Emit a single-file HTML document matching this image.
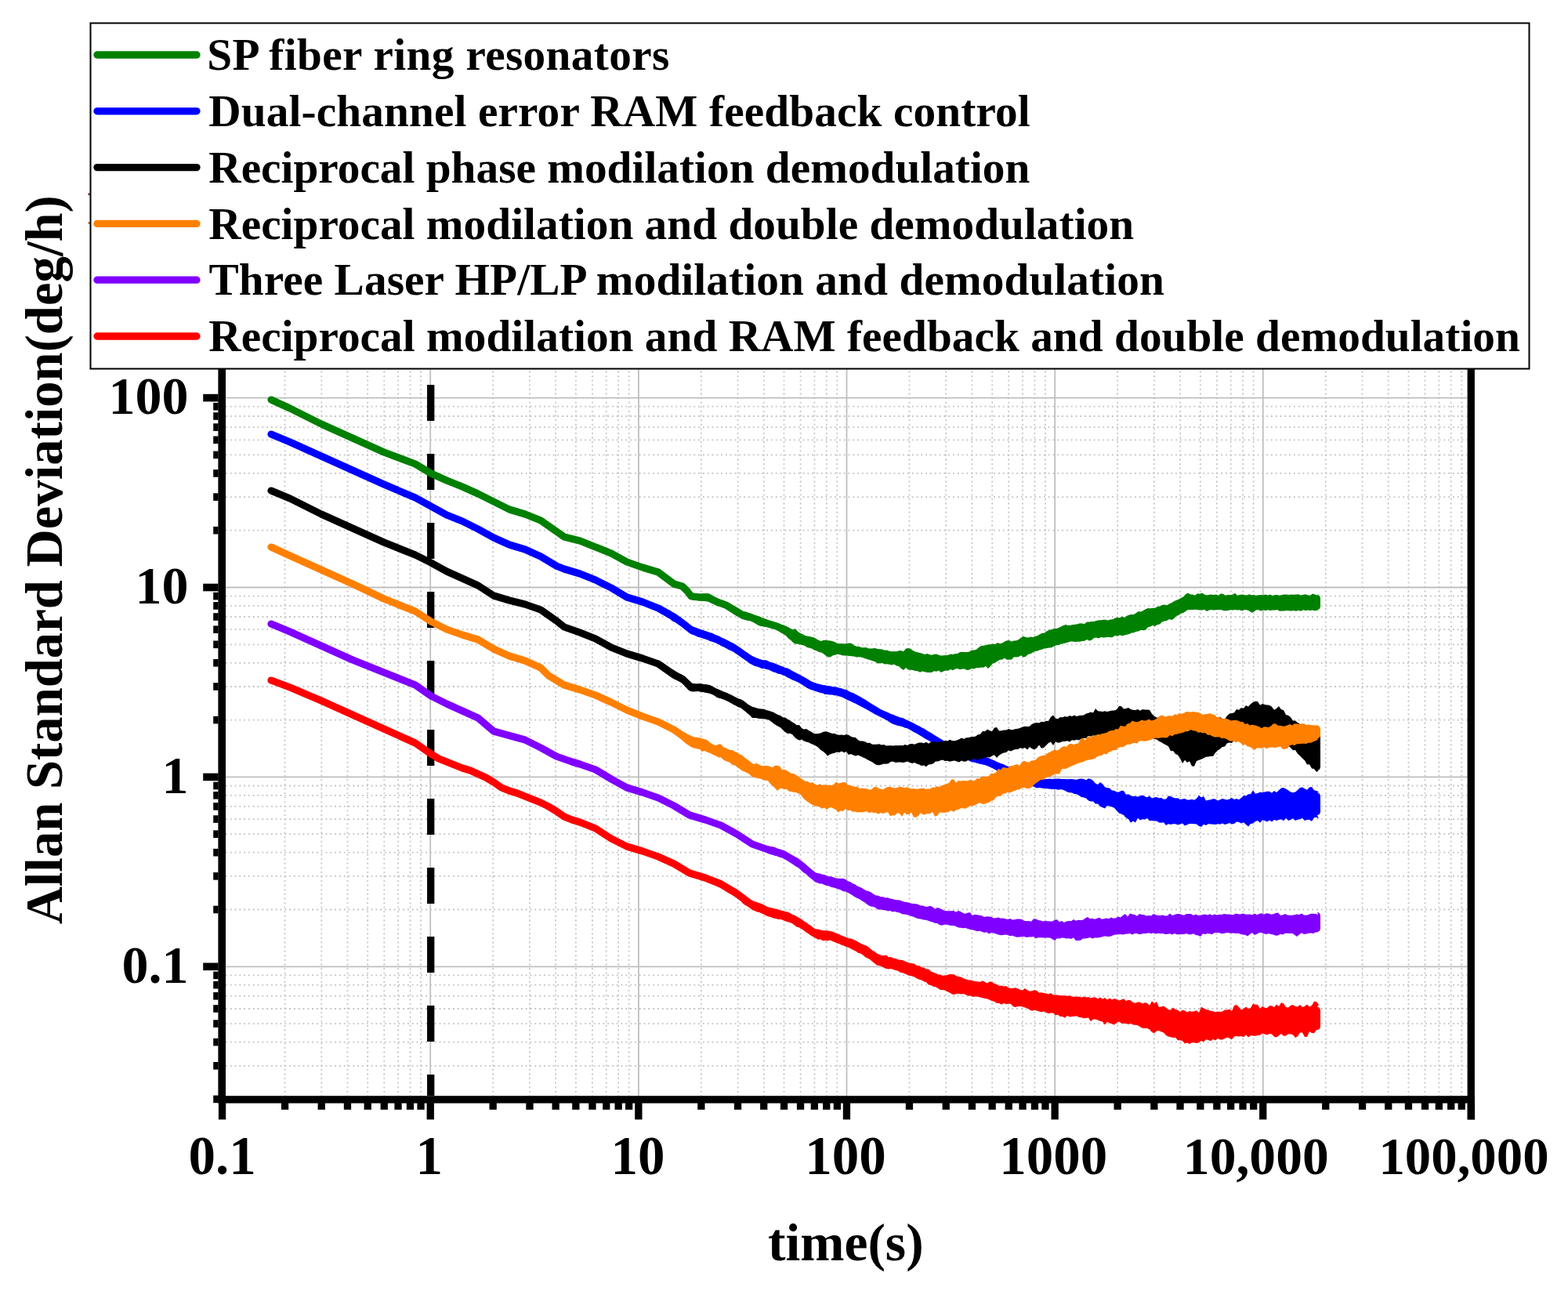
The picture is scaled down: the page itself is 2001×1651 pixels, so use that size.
<!DOCTYPE html><html><head><meta charset="utf-8"><style>html,body{margin:0;padding:0;background:#fff;}svg{display:block}</style></head><body>
<svg width="2001" height="1651" viewBox="0 0 2001 1651">
<rect x="0" y="0" width="2001" height="1651" fill="#fff"/>
<path d="M363.5 300.0V1398.2M410.3 300.0V1398.2M443.5 300.0V1398.2M469.2 300.0V1398.2M490.3 300.0V1398.2M508.1 300.0V1398.2M523.5 300.0V1398.2M537.0 300.0V1398.2M629.2 300.0V1398.2M675.9 300.0V1398.2M709.1 300.0V1398.2M734.9 300.0V1398.2M755.9 300.0V1398.2M773.7 300.0V1398.2M789.1 300.0V1398.2M802.7 300.0V1398.2M894.8 300.0V1398.2M941.6 300.0V1398.2M974.8 300.0V1398.2M1000.5 300.0V1398.2M1021.6 300.0V1398.2M1039.4 300.0V1398.2M1054.8 300.0V1398.2M1068.3 300.0V1398.2M1160.5 300.0V1398.2M1207.2 300.0V1398.2M1240.4 300.0V1398.2M1266.2 300.0V1398.2M1287.2 300.0V1398.2M1305.0 300.0V1398.2M1320.4 300.0V1398.2M1334.0 300.0V1398.2M1426.1 300.0V1398.2M1472.9 300.0V1398.2M1506.1 300.0V1398.2M1531.8 300.0V1398.2M1552.9 300.0V1398.2M1570.7 300.0V1398.2M1586.1 300.0V1398.2M1599.6 300.0V1398.2M1691.8 300.0V1398.2M1738.5 300.0V1398.2M1771.7 300.0V1398.2M1797.5 300.0V1398.2M1818.5 300.0V1398.2M1836.3 300.0V1398.2M1851.7 300.0V1398.2M1865.3 300.0V1398.2" stroke="#c0c0c0" stroke-width="1.8" stroke-dasharray="1.8 3.8" fill="none"/>
<path d="M288.0 1359.8H1872.6M288.0 1329.6H1872.6M288.0 1306.1H1872.6M288.0 1287.0H1872.6M288.0 1270.8H1872.6M288.0 1256.7H1872.6M288.0 1244.4H1872.6M288.0 1160.5H1872.6M288.0 1117.9H1872.6M288.0 1087.7H1872.6M288.0 1064.2H1872.6M288.0 1045.1H1872.6M288.0 1028.9H1872.6M288.0 1014.8H1872.6M288.0 1002.5H1872.6M288.0 918.6H1872.6M288.0 876.0H1872.6M288.0 845.8H1872.6M288.0 822.3H1872.6M288.0 803.2H1872.6M288.0 787.0H1872.6M288.0 772.9H1872.6M288.0 760.6H1872.6M288.0 676.7H1872.6M288.0 634.1H1872.6M288.0 603.9H1872.6M288.0 580.4H1872.6M288.0 561.3H1872.6M288.0 545.1H1872.6M288.0 531.0H1872.6M288.0 518.7H1872.6M288.0 434.8H1872.6M288.0 392.2H1872.6M288.0 362.0H1872.6M288.0 338.5H1872.6M288.0 319.4H1872.6M288.0 303.2H1872.6" stroke="#c0c0c0" stroke-width="1.8" stroke-dasharray="1.8 4" fill="none"/>
<path d="M549.2 300.0V1398.2M814.9 300.0V1398.2M1080.5 300.0V1398.2M1346.2 300.0V1398.2M1611.8 300.0V1398.2M288.0 1233.3H1872.6M288.0 991.4H1872.6M288.0 749.5H1872.6M288.0 507.6H1872.6" stroke="#bfbfbf" stroke-width="1.8" fill="none"/>
<path d="M549.7 491V1398" stroke="#000" stroke-width="9.3" stroke-dasharray="46 42" fill="none"/>
<path d="M346.0 510.0 L370.0 521.0 L410.0 541.0 L450.0 559.0 L490.0 577.0 L530.0 592.0 L550.0 604.0 L570.0 613.0 L590.0 621.0 L610.0 630.0 L630.0 640.0 L650.0 650.0 L670.0 656.0 L690.0 664.0 L700.0 671.0 L720.0 685.0 L740.0 690.0 L760.0 698.0 L780.0 706.0 L800.0 717.0 L820.0 724.0 L840.0 730.0 L860.0 745.0 L871.0 748.2 L877.0 754.3 L882.0 760.8 L893.0 762.0 L904.0 762.2 L915.0 768.0 L926.0 771.8 L937.0 778.5 L948.0 785.0 L959.0 787.9 L970.0 793.0 L981.0 796.0 L992.0 799.4 L1003.0 805.2 L1014.0 812.5 L1025.0 816.8 L1036.0 820.2 L1047.0 825.1 L1058.0 828.0 L1069.0 827.9 L1080.0 828.9 L1100.0 832.5 L1120.0 837.0 L1140.0 839.5 L1160.0 842.0 L1180.0 846.0 L1200.0 846.0 L1220.0 844.0 L1240.0 842.0 L1260.0 836.0 L1280.0 830.0 L1300.0 827.0 L1320.0 822.0 L1340.0 815.0 L1360.0 809.0 L1380.0 807.0 L1400.0 803.0 L1420.0 801.0 L1440.0 798.0 L1460.0 790.0 L1475.0 786.5 L1490.0 781.0 L1505.0 775.0 L1515.0 768.5 L1535.0 768.5 L1600.0 769.0 L1680.5 769.0" stroke="#008000" stroke-width="9.2" fill="none" stroke-linejoin="round" stroke-linecap="round"/>
<path d="M871.0 744.2 L874.0 746.6 L877.0 748.5 L880.0 753.6 L883.0 756.4 L886.0 757.0 L889.0 757.3 L892.0 757.7 L895.0 757.6 L898.0 757.3 L901.0 757.2 L904.0 757.3 L907.0 758.6 L910.0 760.6 L913.0 762.1 L916.0 763.5 L919.0 764.8 L922.0 765.7 L925.0 767.1 L928.0 768.5 L931.0 769.7 L934.0 771.4 L937.0 773.3 L940.0 774.7 L943.0 776.6 L946.0 778.7 L949.0 780.2 L952.0 780.5 L955.0 781.8 L958.0 782.5 L961.0 784.0 L964.0 785.1 L967.0 785.7 L970.0 786.7 L973.0 788.4 L976.0 789.3 L979.0 790.6 L982.0 792.2 L985.0 792.8 L988.0 793.8 L991.0 794.8 L994.0 795.4 L997.0 796.8 L1000.0 797.6 L1003.0 798.8 L1006.0 800.3 L1009.0 802.1 L1012.0 803.2 L1015.0 802.2 L1018.0 805.6 L1021.0 807.7 L1024.0 808.9 L1027.0 810.8 L1030.0 811.5 L1033.0 812.0 L1036.0 812.8 L1039.0 813.6 L1042.0 815.3 L1045.0 817.1 L1048.0 818.0 L1051.0 816.8 L1054.0 816.7 L1057.0 817.2 L1060.0 817.4 L1063.0 818.3 L1066.0 819.5 L1069.0 821.0 L1072.0 821.2 L1075.0 821.1 L1078.0 821.4 L1081.0 820.9 L1084.0 820.4 L1087.0 821.0 L1090.0 823.5 L1093.0 824.7 L1096.0 824.7 L1099.0 826.1 L1102.0 826.3 L1105.0 826.0 L1108.0 827.3 L1111.0 827.5 L1114.0 827.3 L1117.0 827.0 L1120.0 828.0 L1123.0 828.2 L1126.0 828.4 L1129.0 829.7 L1132.0 829.4 L1135.0 830.7 L1138.0 831.3 L1141.0 831.0 L1144.0 831.2 L1147.0 830.2 L1150.0 829.9 L1153.0 831.2 L1156.0 827.6 L1159.0 827.0 L1162.0 827.7 L1165.0 829.9 L1168.0 831.5 L1171.0 832.2 L1174.0 832.9 L1177.0 833.7 L1180.0 834.9 L1183.0 833.9 L1186.0 835.0 L1189.0 835.7 L1192.0 834.7 L1195.0 834.6 L1198.0 835.8 L1201.0 836.5 L1204.0 836.3 L1207.0 835.9 L1210.0 835.8 L1213.0 834.6 L1216.0 835.1 L1219.0 833.9 L1222.0 834.1 L1225.0 832.1 L1228.0 831.8 L1231.0 832.0 L1234.0 831.9 L1237.0 831.4 L1240.0 829.5 L1243.0 829.4 L1246.0 828.7 L1249.0 825.9 L1252.0 823.9 L1255.0 823.7 L1258.0 823.2 L1261.0 822.3 L1264.0 822.2 L1267.0 821.5 L1270.0 822.1 L1273.0 820.1 L1276.0 821.3 L1279.0 820.5 L1282.0 818.4 L1285.0 817.2 L1288.0 817.1 L1291.0 818.5 L1294.0 817.4 L1297.0 817.3 L1300.0 816.0 L1303.0 813.4 L1306.0 811.7 L1309.0 812.9 L1312.0 813.4 L1315.0 812.5 L1318.0 813.0 L1321.0 812.0 L1324.0 811.0 L1327.0 809.3 L1330.0 807.7 L1333.0 807.5 L1336.0 805.2 L1339.0 803.8 L1342.0 803.3 L1345.0 802.0 L1348.0 802.0 L1351.0 801.1 L1354.0 799.6 L1357.0 798.0 L1360.0 797.1 L1363.0 797.9 L1366.0 797.8 L1369.0 796.9 L1372.0 796.7 L1375.0 796.2 L1378.0 795.3 L1381.0 795.6 L1384.0 796.0 L1387.0 793.6 L1390.0 793.5 L1393.0 793.0 L1396.0 792.9 L1399.0 792.1 L1402.0 791.3 L1405.0 791.2 L1408.0 790.7 L1411.0 790.8 L1414.0 791.4 L1417.0 790.4 L1420.0 790.2 L1423.0 788.6 L1426.0 787.8 L1429.0 788.2 L1432.0 786.6 L1435.0 787.9 L1438.0 785.8 L1441.0 784.6 L1444.0 784.1 L1447.0 784.0 L1450.0 782.0 L1453.0 780.0 L1456.0 780.4 L1459.0 779.0 L1462.0 777.2 L1465.0 776.0 L1468.0 776.2 L1471.0 775.8 L1474.0 775.7 L1477.0 774.0 L1480.0 773.4 L1483.0 772.0 L1486.0 771.6 L1489.0 772.2 L1492.0 770.4 L1495.0 769.3 L1498.0 767.2 L1501.0 765.8 L1504.0 764.7 L1507.0 763.1 L1510.0 761.4 L1513.0 758.3 L1516.0 756.6 L1519.0 758.6 L1522.0 758.5 L1525.0 759.8 L1528.0 757.2 L1531.0 757.8 L1534.0 756.4 L1537.0 758.5 L1540.0 759.5 L1543.0 758.7 L1546.0 758.6 L1549.0 759.0 L1552.0 758.4 L1555.0 759.8 L1558.0 757.2 L1561.0 757.9 L1564.0 759.7 L1567.0 758.9 L1570.0 759.0 L1573.0 758.7 L1576.0 756.8 L1579.0 759.8 L1582.0 758.9 L1585.0 758.5 L1588.0 758.9 L1591.0 759.4 L1594.0 758.3 L1597.0 759.2 L1600.0 759.1 L1603.0 759.8 L1606.0 759.3 L1609.0 759.0 L1612.0 759.3 L1615.0 758.6 L1618.0 759.6 L1621.0 758.5 L1624.0 759.9 L1627.0 759.1 L1630.0 759.0 L1633.0 759.8 L1636.0 758.9 L1639.0 758.6 L1642.0 758.5 L1645.0 759.1 L1648.0 758.6 L1651.0 758.8 L1654.0 758.4 L1657.0 758.2 L1660.0 759.6 L1663.0 758.7 L1666.0 758.3 L1669.0 759.3 L1672.0 759.7 L1675.0 757.6 L1678.0 758.6 L1681.0 759.4 L1684.0 758.3 L1681.0 758.7 L1683.8 759.9 L1685.0 762.7 L1685.0 774.3 L1683.8 777.1 L1681.0 778.3 L1684.0 779.7 L1681.0 778.8 L1678.0 779.2 L1675.0 778.5 L1672.0 778.9 L1669.0 778.5 L1666.0 779.1 L1663.0 778.3 L1660.0 779.7 L1657.0 778.7 L1654.0 779.7 L1651.0 778.9 L1648.0 779.4 L1645.0 779.2 L1642.0 779.1 L1639.0 779.4 L1636.0 779.5 L1633.0 779.8 L1630.0 778.1 L1627.0 778.5 L1624.0 778.6 L1621.0 779.0 L1618.0 778.3 L1615.0 779.0 L1612.0 778.3 L1609.0 779.5 L1606.0 778.3 L1603.0 778.3 L1600.0 780.7 L1597.0 781.8 L1594.0 779.2 L1591.0 778.2 L1588.0 778.0 L1585.0 779.4 L1582.0 778.3 L1579.0 778.5 L1576.0 778.0 L1573.0 778.4 L1570.0 778.3 L1567.0 779.0 L1564.0 779.2 L1561.0 779.1 L1558.0 778.1 L1555.0 777.9 L1552.0 778.2 L1549.0 778.4 L1546.0 778.0 L1543.0 778.6 L1540.0 780.0 L1537.0 777.7 L1534.0 778.6 L1531.0 778.5 L1528.0 778.0 L1525.0 777.8 L1522.0 778.0 L1519.0 777.9 L1516.0 778.0 L1513.0 779.9 L1510.0 782.1 L1507.0 782.8 L1504.0 785.0 L1501.0 785.9 L1498.0 789.6 L1495.0 791.1 L1492.0 789.9 L1489.0 792.0 L1486.0 792.4 L1483.0 793.4 L1480.0 796.5 L1477.0 797.0 L1474.0 798.9 L1471.0 798.0 L1468.0 799.5 L1465.0 800.2 L1462.0 803.8 L1459.0 804.2 L1456.0 803.8 L1453.0 805.5 L1450.0 805.8 L1447.0 807.2 L1444.0 807.5 L1441.0 809.1 L1438.0 809.8 L1435.0 810.4 L1432.0 811.2 L1429.0 810.2 L1426.0 811.7 L1423.0 810.8 L1420.0 813.0 L1417.0 813.2 L1414.0 812.7 L1411.0 813.3 L1408.0 813.4 L1405.0 813.0 L1402.0 814.4 L1399.0 813.6 L1396.0 814.0 L1393.0 816.7 L1390.0 817.4 L1387.0 815.9 L1384.0 817.7 L1381.0 818.0 L1378.0 818.8 L1375.0 818.7 L1372.0 819.0 L1369.0 818.4 L1366.0 818.6 L1363.0 819.4 L1360.0 820.4 L1357.0 821.1 L1354.0 821.8 L1351.0 823.1 L1348.0 823.3 L1345.0 824.6 L1342.0 826.2 L1339.0 826.6 L1336.0 827.1 L1333.0 827.2 L1330.0 828.5 L1327.0 829.3 L1324.0 830.4 L1321.0 831.1 L1318.0 832.6 L1315.0 834.2 L1312.0 834.8 L1309.0 837.8 L1306.0 838.4 L1303.0 836.2 L1300.0 837.9 L1297.0 838.4 L1294.0 838.3 L1291.0 841.5 L1288.0 841.8 L1285.0 841.8 L1282.0 839.4 L1279.0 841.4 L1276.0 841.7 L1273.0 843.6 L1270.0 845.5 L1267.0 846.5 L1264.0 850.1 L1261.0 853.1 L1258.0 850.1 L1255.0 851.7 L1252.0 851.5 L1249.0 852.2 L1246.0 851.9 L1243.0 853.5 L1240.0 853.1 L1237.0 854.6 L1234.0 855.0 L1231.0 853.5 L1228.0 853.6 L1225.0 854.2 L1222.0 853.1 L1219.0 853.4 L1216.0 855.2 L1213.0 854.1 L1210.0 855.8 L1207.0 855.6 L1204.0 856.4 L1201.0 858.1 L1198.0 855.6 L1195.0 856.8 L1192.0 856.2 L1189.0 858.0 L1186.0 857.9 L1183.0 858.1 L1180.0 857.2 L1177.0 856.4 L1174.0 857.7 L1171.0 856.2 L1168.0 856.0 L1165.0 855.1 L1162.0 854.7 L1159.0 854.4 L1156.0 852.0 L1153.0 855.0 L1150.0 853.0 L1147.0 850.0 L1144.0 849.5 L1141.0 847.6 L1138.0 848.5 L1135.0 847.7 L1132.0 847.3 L1129.0 847.4 L1126.0 846.1 L1123.0 846.3 L1120.0 846.6 L1117.0 844.2 L1114.0 843.6 L1111.0 842.3 L1108.0 841.5 L1105.0 840.4 L1102.0 839.5 L1099.0 838.5 L1096.0 838.2 L1093.0 838.6 L1090.0 837.6 L1087.0 837.3 L1084.0 837.0 L1081.0 836.6 L1078.0 836.4 L1075.0 836.2 L1072.0 835.3 L1069.0 834.8 L1066.0 835.6 L1063.0 836.2 L1060.0 838.2 L1057.0 838.5 L1054.0 836.7 L1051.0 834.2 L1048.0 832.4 L1045.0 832.0 L1042.0 830.2 L1039.0 829.5 L1036.0 827.5 L1033.0 826.8 L1030.0 826.0 L1027.0 824.1 L1024.0 823.0 L1021.0 822.5 L1018.0 821.6 L1015.0 821.8 L1012.0 819.7 L1009.0 816.8 L1006.0 814.5 L1003.0 811.1 L1000.0 809.0 L997.0 807.4 L994.0 805.2 L991.0 803.5 L988.0 802.5 L985.0 801.3 L982.0 800.7 L979.0 800.0 L976.0 799.6 L973.0 799.2 L970.0 798.8 L967.0 797.5 L964.0 795.5 L961.0 793.6 L958.0 792.3 L955.0 792.1 L952.0 791.3 L949.0 790.6 L946.0 789.3 L943.0 787.3 L940.0 786.0 L937.0 784.1 L934.0 781.7 L931.0 779.5 L928.0 777.5 L925.0 775.6 L922.0 775.1 L919.0 773.8 L916.0 773.2 L913.0 772.0 L910.0 770.5 L907.0 769.3 L904.0 767.8 L901.0 767.3 L898.0 767.1 L895.0 766.8 L892.0 766.5 L889.0 766.2 L886.0 765.9 L883.0 765.4 L880.0 762.6 L877.0 759.5 L874.0 755.9 L871.0 752.2Z" fill="#008000"/>
<path d="M346.0 554.0 L370.0 564.0 L410.0 582.0 L450.0 600.0 L490.0 618.0 L530.0 635.0 L550.0 646.0 L570.0 657.0 L590.0 665.0 L610.0 675.0 L630.0 686.0 L650.0 695.0 L670.0 701.0 L690.0 710.0 L710.0 722.0 L720.0 726.0 L740.0 732.0 L760.0 740.0 L780.0 750.0 L800.0 762.0 L820.0 768.0 L840.0 776.0 L860.0 787.3 L871.0 795.0 L882.0 803.7 L893.0 808.0 L904.0 811.4 L915.0 815.8 L926.0 821.3 L937.0 826.8 L948.0 834.5 L959.0 842.2 L970.0 846.6 L981.0 849.3 L992.0 853.2 L1003.0 857.6 L1014.0 863.0 L1025.0 868.6 L1036.0 875.2 L1047.0 878.5 L1058.0 880.7 L1069.0 882.3 L1080.0 886.0 L1100.0 896.0 L1120.0 908.0 L1140.0 918.0 L1160.0 925.0 L1180.0 936.0 L1200.0 948.0 L1220.0 958.0 L1240.0 967.0 L1260.0 972.0 L1280.0 981.0 L1300.0 989.0 L1315.0 996.0 L1330.0 1000.0 L1360.0 1001.0 L1380.0 1005.0 L1400.0 1013.0 L1420.0 1019.0 L1440.0 1030.0 L1460.0 1030.0 L1490.0 1036.0 L1520.0 1035.5 L1550.0 1036.5 L1580.0 1034.5 L1600.0 1030.5 L1630.0 1028.0 L1660.0 1027.0 L1675.0 1025.5 L1680.5 1026.0" stroke="#0000ff" stroke-width="9.2" fill="none" stroke-linejoin="round" stroke-linecap="round"/>
<path d="M840.0 771.8 L843.0 772.2 L846.0 774.5 L849.0 775.5 L852.0 777.4 L855.0 778.7 L858.0 780.9 L861.0 782.6 L864.0 784.6 L867.0 786.8 L870.0 789.0 L873.0 791.2 L876.0 793.6 L879.0 796.1 L882.0 798.4 L885.0 799.8 L888.0 800.7 L891.0 802.1 L894.0 803.0 L897.0 804.0 L900.0 805.0 L903.0 806.0 L906.0 807.2 L909.0 807.8 L912.0 809.5 L915.0 810.8 L918.0 811.7 L921.0 813.8 L924.0 814.7 L927.0 816.3 L930.0 817.8 L933.0 819.6 L936.0 820.7 L939.0 823.2 L942.0 825.0 L945.0 826.8 L948.0 829.3 L951.0 831.6 L954.0 833.1 L957.0 835.3 L960.0 837.1 L963.0 838.3 L966.0 839.8 L969.0 840.7 L972.0 841.7 L975.0 842.3 L978.0 842.2 L981.0 844.0 L984.0 844.9 L987.0 845.8 L990.0 847.0 L993.0 848.2 L996.0 849.6 L999.0 850.4 L1002.0 852.1 L1005.0 852.5 L1008.0 854.1 L1011.0 856.1 L1014.0 857.4 L1017.0 859.2 L1020.0 860.5 L1023.0 862.4 L1026.0 863.9 L1029.0 865.6 L1032.0 867.4 L1035.0 869.4 L1038.0 870.6 L1041.0 871.4 L1044.0 872.5 L1047.0 873.2 L1050.0 874.1 L1053.0 874.3 L1056.0 874.9 L1059.0 875.3 L1062.0 875.9 L1065.0 876.2 L1068.0 876.8 L1071.0 877.7 L1074.0 878.3 L1077.0 879.4 L1080.0 880.0 L1083.0 881.8 L1086.0 883.3 L1089.0 884.3 L1092.0 885.7 L1095.0 887.6 L1098.0 888.9 L1101.0 891.0 L1104.0 892.4 L1107.0 894.7 L1110.0 896.9 L1113.0 898.8 L1116.0 901.2 L1119.0 903.4 L1122.0 905.1 L1125.0 906.1 L1128.0 907.3 L1131.0 908.1 L1134.0 909.4 L1137.0 910.9 L1140.0 911.8 L1143.0 913.3 L1146.0 914.2 L1149.0 915.6 L1152.0 916.1 L1155.0 917.4 L1158.0 919.0 L1161.0 920.5 L1164.0 922.1 L1167.0 923.3 L1170.0 925.2 L1173.0 926.3 L1176.0 928.2 L1179.0 929.6 L1182.0 931.5 L1185.0 933.4 L1188.0 935.1 L1191.0 937.1 L1194.0 939.0 L1197.0 940.8 L1200.0 942.7 L1203.0 944.5 L1206.0 945.8 L1209.0 947.4 L1212.0 948.8 L1215.0 950.6 L1218.0 951.8 L1221.0 953.3 L1224.0 954.9 L1227.0 955.9 L1230.0 957.5 L1233.0 958.9 L1236.0 960.0 L1239.0 961.5 L1242.0 962.5 L1245.0 963.4 L1248.0 963.7 L1251.0 964.9 L1254.0 965.2 L1257.0 965.3 L1260.0 966.5 L1263.0 967.7 L1266.0 969.2 L1269.0 970.3 L1272.0 972.1 L1275.0 973.3 L1278.0 974.3 L1281.0 975.3 L1284.0 976.9 L1287.0 978.0 L1290.0 979.2 L1293.0 979.0 L1296.0 980.6 L1299.0 981.8 L1302.0 984.2 L1305.0 984.8 L1308.0 987.1 L1311.0 988.4 L1314.0 989.4 L1317.0 990.2 L1320.0 991.5 L1323.0 991.9 L1326.0 992.8 L1329.0 994.1 L1332.0 994.2 L1335.0 994.0 L1338.0 993.7 L1341.0 993.7 L1344.0 994.1 L1347.0 993.8 L1350.0 993.5 L1353.0 993.8 L1356.0 993.9 L1359.0 994.1 L1362.0 994.3 L1365.0 993.9 L1368.0 994.0 L1371.0 994.6 L1374.0 994.7 L1377.0 993.8 L1380.0 993.5 L1383.0 994.1 L1386.0 995.3 L1389.0 993.3 L1392.0 994.0 L1395.0 995.9 L1398.0 999.4 L1401.0 1001.0 L1404.0 998.1 L1407.0 1000.3 L1410.0 1004.3 L1413.0 1005.3 L1416.0 1005.6 L1419.0 1008.5 L1422.0 1008.8 L1425.0 1010.5 L1428.0 1010.4 L1431.0 1008.7 L1434.0 1009.1 L1437.0 1013.7 L1440.0 1013.2 L1443.0 1015.3 L1446.0 1015.9 L1449.0 1015.8 L1452.0 1016.4 L1455.0 1015.6 L1458.0 1014.6 L1461.0 1016.2 L1464.0 1017.3 L1467.0 1015.6 L1470.0 1018.6 L1473.0 1017.6 L1476.0 1017.1 L1479.0 1018.3 L1482.0 1018.0 L1485.0 1019.8 L1488.0 1019.5 L1491.0 1015.6 L1494.0 1016.1 L1497.0 1017.5 L1500.0 1018.5 L1503.0 1018.3 L1506.0 1020.0 L1509.0 1019.4 L1512.0 1019.1 L1515.0 1020.5 L1518.0 1020.4 L1521.0 1019.8 L1524.0 1020.7 L1527.0 1018.7 L1530.0 1014.8 L1533.0 1017.4 L1536.0 1015.9 L1539.0 1021.6 L1542.0 1020.8 L1545.0 1020.2 L1548.0 1019.3 L1551.0 1019.4 L1554.0 1021.5 L1557.0 1020.2 L1560.0 1019.0 L1563.0 1019.7 L1566.0 1020.4 L1569.0 1019.4 L1572.0 1018.0 L1575.0 1019.9 L1578.0 1019.1 L1581.0 1020.2 L1584.0 1018.1 L1587.0 1014.9 L1590.0 1015.4 L1593.0 1013.3 L1596.0 1013.2 L1599.0 1008.3 L1602.0 1012.7 L1605.0 1011.9 L1608.0 1010.7 L1611.0 1011.1 L1614.0 1010.5 L1617.0 1009.7 L1620.0 1009.8 L1623.0 1011.8 L1626.0 1008.9 L1629.0 1011.0 L1632.0 1008.3 L1635.0 1005.4 L1638.0 1004.9 L1641.0 1006.4 L1644.0 1008.2 L1647.0 1010.5 L1650.0 1011.2 L1653.0 1010.4 L1656.0 1008.1 L1659.0 1004.9 L1662.0 1004.4 L1665.0 1006.2 L1668.0 1007.8 L1671.0 1004.5 L1674.0 1004.0 L1677.0 1008.2 L1680.0 1009.1 L1683.0 1010.3 L1681.0 1011.3 L1683.8 1012.5 L1685.0 1015.3 L1685.0 1036.2 L1683.8 1039.0 L1681.0 1040.2 L1683.0 1044.8 L1680.0 1042.8 L1677.0 1043.3 L1674.0 1048.0 L1671.0 1045.8 L1668.0 1046.1 L1665.0 1047.1 L1662.0 1043.7 L1659.0 1045.3 L1656.0 1045.7 L1653.0 1047.1 L1650.0 1044.3 L1647.0 1046.1 L1644.0 1047.0 L1641.0 1043.8 L1638.0 1047.2 L1635.0 1045.3 L1632.0 1046.1 L1629.0 1047.0 L1626.0 1046.1 L1623.0 1048.4 L1620.0 1046.5 L1617.0 1048.5 L1614.0 1046.9 L1611.0 1046.2 L1608.0 1049.8 L1605.0 1046.9 L1602.0 1048.0 L1599.0 1050.6 L1596.0 1050.9 L1593.0 1054.4 L1590.0 1052.0 L1587.0 1049.2 L1584.0 1050.6 L1581.0 1049.1 L1578.0 1048.6 L1575.0 1051.0 L1572.0 1051.4 L1569.0 1050.0 L1566.0 1051.3 L1563.0 1052.1 L1560.0 1050.4 L1557.0 1051.8 L1554.0 1051.2 L1551.0 1051.9 L1548.0 1051.7 L1545.0 1051.4 L1542.0 1051.2 L1539.0 1052.9 L1536.0 1051.7 L1533.0 1055.0 L1530.0 1054.0 L1527.0 1051.4 L1524.0 1051.3 L1521.0 1050.9 L1518.0 1050.9 L1515.0 1052.2 L1512.0 1053.5 L1509.0 1050.6 L1506.0 1051.6 L1503.0 1052.6 L1500.0 1051.3 L1497.0 1051.2 L1494.0 1052.1 L1491.0 1051.3 L1488.0 1052.9 L1485.0 1049.2 L1482.0 1049.7 L1479.0 1049.5 L1476.0 1047.5 L1473.0 1047.5 L1470.0 1047.0 L1467.0 1047.2 L1464.0 1044.1 L1461.0 1045.6 L1458.0 1045.2 L1455.0 1046.5 L1452.0 1043.7 L1449.0 1049.6 L1446.0 1047.4 L1443.0 1049.7 L1440.0 1045.0 L1437.0 1043.6 L1434.0 1039.9 L1431.0 1038.4 L1428.0 1037.6 L1425.0 1034.3 L1422.0 1030.8 L1419.0 1029.5 L1416.0 1028.8 L1413.0 1027.7 L1410.0 1031.5 L1407.0 1030.3 L1404.0 1029.0 L1401.0 1025.5 L1398.0 1025.7 L1395.0 1022.5 L1392.0 1022.5 L1389.0 1021.5 L1386.0 1018.4 L1383.0 1017.4 L1380.0 1016.9 L1377.0 1015.1 L1374.0 1013.3 L1371.0 1013.0 L1368.0 1011.6 L1365.0 1011.2 L1362.0 1010.4 L1359.0 1008.8 L1356.0 1007.6 L1353.0 1007.3 L1350.0 1007.7 L1347.0 1006.8 L1344.0 1007.1 L1341.0 1006.8 L1338.0 1006.5 L1335.0 1006.1 L1332.0 1006.1 L1329.0 1005.5 L1326.0 1005.0 L1323.0 1005.4 L1320.0 1003.9 L1317.0 1002.9 L1314.0 1001.8 L1311.0 1000.2 L1308.0 999.0 L1305.0 997.0 L1302.0 996.9 L1299.0 994.6 L1296.0 994.5 L1293.0 992.1 L1290.0 991.1 L1287.0 990.2 L1284.0 988.7 L1281.0 987.3 L1278.0 985.8 L1275.0 984.2 L1272.0 983.3 L1269.0 981.3 L1266.0 979.7 L1263.0 978.3 L1260.0 977.0 L1257.0 976.1 L1254.0 975.3 L1251.0 974.7 L1248.0 974.0 L1245.0 973.1 L1242.0 972.3 L1239.0 971.6 L1236.0 970.1 L1233.0 968.8 L1230.0 967.6 L1227.0 966.3 L1224.0 964.9 L1221.0 963.3 L1218.0 962.4 L1215.0 961.2 L1212.0 959.1 L1209.0 957.3 L1206.0 956.0 L1203.0 954.5 L1200.0 952.9 L1197.0 951.6 L1194.0 950.0 L1191.0 947.8 L1188.0 946.4 L1185.0 944.8 L1182.0 943.3 L1179.0 941.6 L1176.0 939.4 L1173.0 937.8 L1170.0 935.8 L1167.0 934.5 L1164.0 932.7 L1161.0 930.8 L1158.0 929.3 L1155.0 928.7 L1152.0 927.3 L1149.0 926.4 L1146.0 925.9 L1143.0 924.9 L1140.0 923.9 L1137.0 922.4 L1134.0 920.5 L1131.0 918.3 L1128.0 916.6 L1125.0 914.7 L1122.0 913.1 L1119.0 911.4 L1116.0 910.2 L1113.0 908.6 L1110.0 907.2 L1107.0 905.6 L1104.0 904.1 L1101.0 902.6 L1098.0 901.0 L1095.0 899.4 L1092.0 897.7 L1089.0 896.5 L1086.0 894.9 L1083.0 893.7 L1080.0 892.2 L1077.0 890.7 L1074.0 889.3 L1071.0 888.6 L1068.0 887.6 L1065.0 887.3 L1062.0 886.4 L1059.0 886.5 L1056.0 886.1 L1053.0 885.9 L1050.0 884.5 L1047.0 884.0 L1044.0 883.0 L1041.0 882.1 L1038.0 881.0 L1035.0 880.1 L1032.0 878.8 L1029.0 877.3 L1026.0 874.9 L1023.0 873.2 L1020.0 871.1 L1017.0 869.8 L1014.0 868.5 L1011.0 867.5 L1008.0 865.8 L1005.0 864.4 L1002.0 862.6 L999.0 861.4 L996.0 860.0 L993.0 859.7 L990.0 858.3 L987.0 857.4 L984.0 855.9 L981.0 854.5 L978.0 854.0 L975.0 852.9 L972.0 852.9 L969.0 851.4 L966.0 850.4 L963.0 849.8 L960.0 848.2 L957.0 846.6 L954.0 844.0 L951.0 841.7 L948.0 839.7 L945.0 837.7 L942.0 835.4 L939.0 833.7 L936.0 831.6 L933.0 830.3 L930.0 829.0 L927.0 827.2 L924.0 825.4 L921.0 824.5 L918.0 822.5 L915.0 820.8 L912.0 819.7 L909.0 818.8 L906.0 818.0 L903.0 816.6 L900.0 815.5 L897.0 814.5 L894.0 813.5 L891.0 812.8 L888.0 811.5 L885.0 810.1 L882.0 809.2 L879.0 806.5 L876.0 804.6 L873.0 801.9 L870.0 799.5 L867.0 797.5 L864.0 795.2 L861.0 793.6 L858.0 792.4 L855.0 789.4 L852.0 788.0 L849.0 785.9 L846.0 784.0 L843.0 782.5 L840.0 780.8Z" fill="#0000ff"/>
<path d="M346.0 626.0 L370.0 636.0 L410.0 656.0 L450.0 674.0 L490.0 692.0 L530.0 708.0 L550.0 718.0 L570.0 729.0 L590.0 738.0 L610.0 747.0 L630.0 760.0 L650.0 766.0 L670.0 771.0 L690.0 778.0 L710.0 792.0 L720.0 800.0 L740.0 807.0 L760.0 815.0 L780.0 826.0 L800.0 834.0 L820.0 840.0 L840.0 847.0 L860.0 860.9 L871.0 866.4 L877.0 872.0 L882.0 877.4 L893.0 877.4 L904.0 878.5 L915.0 884.0 L926.0 888.4 L937.0 893.8 L948.0 899.3 L960.0 909.0 L980.0 912.0 L1000.0 923.0 L1020.0 935.0 L1040.0 943.5 L1055.0 948.5 L1070.0 948.5 L1080.0 948.5 L1100.0 956.0 L1120.0 963.0 L1140.0 962.0 L1160.0 961.0 L1180.0 963.0 L1200.0 958.0 L1220.0 958.0 L1240.0 955.0 L1260.0 949.0 L1280.0 946.0 L1300.0 943.0 L1320.0 938.0 L1340.0 933.0 L1360.0 930.0 L1380.0 927.0 L1400.0 923.0 L1420.0 920.0 L1440.0 917.0 L1460.0 922.0 L1475.0 928.5 L1490.0 936.5 L1505.0 947.0 L1515.0 952.5 L1530.0 951.5 L1545.0 944.0 L1560.0 935.0 L1575.0 927.0 L1585.0 924.0 L1600.0 918.0 L1615.0 920.5 L1630.0 926.0 L1645.0 933.0 L1655.0 941.0 L1670.0 953.0 L1680.0 959.0 L1680.5 961.0" stroke="#000000" stroke-width="9.2" fill="none" stroke-linejoin="round" stroke-linecap="round"/>
<path d="M840.0 842.3 L843.0 844.6 L846.0 845.7 L849.0 848.1 L852.0 850.3 L855.0 852.7 L858.0 854.1 L861.0 855.8 L864.0 857.4 L867.0 859.4 L870.0 860.6 L873.0 863.4 L876.0 866.1 L879.0 869.1 L882.0 871.8 L885.0 872.0 L888.0 872.5 L891.0 872.3 L894.0 872.3 L897.0 872.7 L900.0 873.3 L903.0 873.4 L906.0 874.3 L909.0 875.4 L912.0 877.4 L915.0 878.9 L918.0 880.1 L921.0 881.5 L924.0 882.9 L927.0 883.7 L930.0 885.4 L933.0 886.5 L936.0 888.2 L939.0 889.9 L942.0 891.4 L945.0 892.0 L948.0 893.5 L951.0 896.1 L954.0 898.4 L957.0 899.9 L960.0 901.7 L963.0 902.4 L966.0 903.6 L969.0 904.2 L972.0 904.4 L975.0 904.7 L978.0 905.9 L981.0 906.7 L984.0 907.7 L987.0 908.7 L990.0 910.4 L993.0 912.1 L996.0 912.9 L999.0 915.2 L1002.0 915.6 L1005.0 917.6 L1008.0 919.2 L1011.0 921.3 L1014.0 922.9 L1017.0 925.3 L1020.0 925.1 L1023.0 928.9 L1026.0 930.4 L1029.0 930.1 L1032.0 931.9 L1035.0 933.6 L1038.0 935.6 L1041.0 936.3 L1044.0 935.9 L1047.0 935.4 L1050.0 933.9 L1053.0 933.2 L1056.0 933.7 L1059.0 934.7 L1062.0 935.9 L1065.0 935.7 L1068.0 937.2 L1071.0 937.7 L1074.0 937.5 L1077.0 938.1 L1080.0 937.1 L1083.0 937.8 L1086.0 939.8 L1089.0 940.7 L1092.0 940.9 L1095.0 944.3 L1098.0 945.5 L1101.0 945.4 L1104.0 946.3 L1107.0 947.9 L1110.0 947.7 L1113.0 949.7 L1116.0 949.7 L1119.0 949.8 L1122.0 949.2 L1125.0 950.4 L1128.0 950.1 L1131.0 951.5 L1134.0 951.2 L1137.0 951.2 L1140.0 951.4 L1143.0 951.0 L1146.0 951.3 L1149.0 951.1 L1152.0 951.3 L1155.0 950.0 L1158.0 950.9 L1161.0 949.2 L1164.0 949.1 L1167.0 949.8 L1170.0 948.5 L1173.0 947.4 L1176.0 947.6 L1179.0 948.2 L1182.0 946.7 L1185.0 948.7 L1188.0 946.6 L1191.0 946.3 L1194.0 946.7 L1197.0 946.8 L1200.0 946.3 L1203.0 946.1 L1206.0 945.0 L1209.0 945.5 L1212.0 943.7 L1215.0 945.1 L1218.0 945.2 L1221.0 944.5 L1224.0 943.3 L1227.0 941.5 L1230.0 942.8 L1233.0 941.2 L1236.0 941.1 L1239.0 940.3 L1242.0 940.1 L1245.0 939.4 L1248.0 937.2 L1251.0 936.8 L1254.0 932.7 L1257.0 933.3 L1260.0 930.4 L1263.0 932.2 L1266.0 933.0 L1269.0 928.5 L1272.0 928.1 L1275.0 932.6 L1278.0 932.3 L1281.0 931.5 L1284.0 931.4 L1287.0 930.1 L1290.0 931.0 L1293.0 931.1 L1296.0 930.1 L1299.0 929.8 L1302.0 928.7 L1305.0 927.6 L1308.0 926.7 L1311.0 927.0 L1314.0 926.7 L1317.0 923.7 L1320.0 922.7 L1323.0 922.0 L1326.0 922.5 L1329.0 920.7 L1332.0 921.2 L1335.0 919.7 L1338.0 920.1 L1341.0 914.8 L1344.0 912.4 L1347.0 916.5 L1350.0 917.2 L1353.0 914.9 L1356.0 915.2 L1359.0 913.9 L1362.0 914.7 L1365.0 913.1 L1368.0 914.1 L1371.0 912.4 L1374.0 913.9 L1377.0 912.9 L1380.0 912.8 L1383.0 912.4 L1386.0 910.6 L1389.0 909.8 L1392.0 908.4 L1395.0 909.4 L1398.0 904.0 L1401.0 907.3 L1404.0 907.6 L1407.0 908.1 L1410.0 907.3 L1413.0 908.0 L1416.0 907.3 L1419.0 906.6 L1422.0 906.6 L1425.0 905.2 L1428.0 901.1 L1431.0 900.9 L1434.0 904.4 L1437.0 903.9 L1440.0 903.0 L1443.0 904.9 L1446.0 905.8 L1449.0 906.0 L1452.0 904.9 L1455.0 906.8 L1458.0 905.1 L1461.0 905.6 L1464.0 905.4 L1467.0 905.7 L1470.0 910.7 L1473.0 913.7 L1476.0 915.5 L1479.0 915.5 L1482.0 917.9 L1485.0 919.0 L1488.0 917.6 L1491.0 919.4 L1494.0 922.0 L1497.0 922.0 L1500.0 922.5 L1503.0 922.5 L1506.0 928.4 L1509.0 930.1 L1512.0 932.1 L1515.0 933.3 L1518.0 931.1 L1521.0 927.2 L1524.0 929.2 L1527.0 927.9 L1530.0 930.7 L1533.0 931.0 L1536.0 930.8 L1539.0 927.7 L1542.0 928.4 L1545.0 926.4 L1548.0 925.4 L1551.0 922.6 L1554.0 918.7 L1557.0 914.6 L1560.0 917.6 L1563.0 917.6 L1566.0 913.2 L1569.0 910.4 L1572.0 910.1 L1575.0 909.3 L1578.0 905.1 L1581.0 905.8 L1584.0 902.9 L1587.0 903.7 L1590.0 899.9 L1593.0 901.4 L1596.0 898.3 L1599.0 896.0 L1602.0 894.7 L1605.0 895.0 L1608.0 899.8 L1611.0 898.1 L1614.0 898.9 L1617.0 899.5 L1620.0 899.8 L1623.0 901.8 L1626.0 905.7 L1629.0 904.0 L1632.0 900.9 L1635.0 905.3 L1638.0 905.9 L1641.0 912.0 L1644.0 912.8 L1647.0 915.0 L1650.0 919.4 L1653.0 919.5 L1656.0 921.9 L1659.0 923.9 L1662.0 927.9 L1665.0 925.4 L1668.0 926.8 L1671.0 929.8 L1674.0 931.7 L1677.0 932.5 L1680.0 935.8 L1683.0 935.4 L1681.0 935.9 L1683.8 937.1 L1685.0 939.9 L1685.0 979.1 L1683.8 981.9 L1681.0 983.1 L1683.0 983.0 L1680.0 984.9 L1677.0 980.9 L1674.0 980.6 L1671.0 975.3 L1668.0 975.6 L1665.0 970.3 L1662.0 967.6 L1659.0 964.2 L1656.0 961.7 L1653.0 956.9 L1650.0 957.3 L1647.0 954.0 L1644.0 951.6 L1641.0 950.2 L1638.0 950.3 L1635.0 950.0 L1632.0 944.8 L1629.0 946.2 L1626.0 946.9 L1623.0 945.2 L1620.0 943.1 L1617.0 947.7 L1614.0 948.5 L1611.0 942.4 L1608.0 939.9 L1605.0 939.2 L1602.0 938.5 L1599.0 942.5 L1596.0 945.5 L1593.0 944.8 L1590.0 946.1 L1587.0 944.1 L1584.0 945.9 L1581.0 942.9 L1578.0 944.5 L1575.0 944.0 L1572.0 948.1 L1569.0 947.4 L1566.0 948.2 L1563.0 952.4 L1560.0 953.1 L1557.0 955.5 L1554.0 957.6 L1551.0 960.4 L1548.0 965.0 L1545.0 964.7 L1542.0 965.4 L1539.0 965.7 L1536.0 967.2 L1533.0 968.8 L1530.0 969.7 L1527.0 971.0 L1524.0 977.7 L1521.0 977.5 L1518.0 971.2 L1515.0 973.0 L1512.0 969.8 L1509.0 974.0 L1506.0 967.6 L1503.0 963.3 L1500.0 962.1 L1497.0 957.9 L1494.0 958.2 L1491.0 952.3 L1488.0 950.5 L1485.0 949.0 L1482.0 947.0 L1479.0 945.7 L1476.0 943.3 L1473.0 942.9 L1470.0 941.1 L1467.0 942.5 L1464.0 943.6 L1461.0 941.8 L1458.0 937.3 L1455.0 935.0 L1452.0 936.3 L1449.0 934.9 L1446.0 932.5 L1443.0 932.2 L1440.0 929.3 L1437.0 931.9 L1434.0 931.6 L1431.0 931.9 L1428.0 932.0 L1425.0 932.0 L1422.0 933.0 L1419.0 934.8 L1416.0 935.3 L1413.0 934.7 L1410.0 940.2 L1407.0 936.5 L1404.0 938.4 L1401.0 936.9 L1398.0 939.9 L1395.0 938.2 L1392.0 939.8 L1389.0 938.9 L1386.0 942.0 L1383.0 941.8 L1380.0 942.5 L1377.0 944.5 L1374.0 943.8 L1371.0 944.8 L1368.0 944.2 L1365.0 946.4 L1362.0 945.3 L1359.0 946.1 L1356.0 946.1 L1353.0 947.2 L1350.0 947.8 L1347.0 946.3 L1344.0 951.0 L1341.0 946.4 L1338.0 947.9 L1335.0 950.9 L1332.0 954.1 L1329.0 954.7 L1326.0 950.4 L1323.0 954.4 L1320.0 956.3 L1317.0 955.3 L1314.0 952.9 L1311.0 956.6 L1308.0 954.1 L1305.0 954.9 L1302.0 954.3 L1299.0 955.9 L1296.0 956.0 L1293.0 956.9 L1290.0 958.5 L1287.0 957.5 L1284.0 959.9 L1281.0 960.6 L1278.0 961.8 L1275.0 963.7 L1272.0 966.9 L1269.0 963.3 L1266.0 964.6 L1263.0 966.6 L1260.0 966.0 L1257.0 966.5 L1254.0 968.1 L1251.0 967.7 L1248.0 969.9 L1245.0 968.6 L1242.0 968.2 L1239.0 970.3 L1236.0 969.4 L1233.0 971.4 L1230.0 971.7 L1227.0 970.6 L1224.0 972.4 L1221.0 971.5 L1218.0 970.6 L1215.0 971.1 L1212.0 971.8 L1209.0 970.8 L1206.0 971.1 L1203.0 969.4 L1200.0 970.3 L1197.0 971.6 L1194.0 971.4 L1191.0 974.3 L1188.0 975.3 L1185.0 975.6 L1182.0 978.3 L1179.0 976.6 L1176.0 977.0 L1173.0 975.5 L1170.0 974.6 L1167.0 973.1 L1164.0 974.0 L1161.0 972.7 L1158.0 971.5 L1155.0 972.4 L1152.0 972.9 L1149.0 972.4 L1146.0 972.6 L1143.0 972.9 L1140.0 971.7 L1137.0 971.7 L1134.0 973.9 L1131.0 974.8 L1128.0 974.6 L1125.0 975.5 L1122.0 976.2 L1119.0 975.9 L1116.0 974.6 L1113.0 972.3 L1110.0 970.8 L1107.0 969.3 L1104.0 967.4 L1101.0 966.2 L1098.0 964.7 L1095.0 963.6 L1092.0 964.5 L1089.0 963.4 L1086.0 962.1 L1083.0 963.0 L1080.0 959.1 L1077.0 960.3 L1074.0 958.6 L1071.0 959.9 L1068.0 959.5 L1065.0 960.7 L1062.0 961.5 L1059.0 962.5 L1056.0 964.5 L1053.0 960.9 L1050.0 958.4 L1047.0 956.7 L1044.0 953.5 L1041.0 951.5 L1038.0 950.0 L1035.0 948.9 L1032.0 947.2 L1029.0 946.4 L1026.0 945.5 L1023.0 943.6 L1020.0 944.5 L1017.0 943.1 L1014.0 940.4 L1011.0 937.0 L1008.0 935.8 L1005.0 936.0 L1002.0 934.1 L999.0 931.3 L996.0 928.2 L993.0 926.8 L990.0 925.0 L987.0 923.0 L984.0 920.5 L981.0 918.5 L978.0 917.7 L975.0 917.3 L972.0 916.9 L969.0 916.9 L966.0 916.3 L963.0 916.1 L960.0 915.9 L957.0 912.8 L954.0 909.8 L951.0 907.3 L948.0 904.2 L945.0 902.8 L942.0 902.2 L939.0 900.3 L936.0 898.9 L933.0 896.9 L930.0 895.1 L927.0 893.8 L924.0 892.6 L921.0 891.5 L918.0 890.8 L915.0 889.9 L912.0 887.6 L909.0 885.7 L906.0 884.9 L903.0 884.3 L900.0 883.7 L897.0 883.0 L894.0 882.7 L891.0 882.1 L888.0 882.2 L885.0 882.6 L882.0 882.2 L879.0 879.4 L876.0 876.1 L873.0 873.5 L870.0 870.9 L867.0 869.7 L864.0 867.9 L861.0 866.7 L858.0 865.0 L855.0 862.4 L852.0 860.2 L849.0 858.0 L846.0 856.1 L843.0 853.4 L840.0 851.5Z" fill="#000000"/>
<path d="M346.0 698.0 L370.0 709.0 L410.0 727.0 L450.0 745.0 L490.0 764.0 L530.0 780.0 L550.0 793.0 L570.0 803.0 L590.0 810.0 L610.0 816.0 L630.0 828.0 L650.0 837.0 L670.0 843.0 L690.0 852.0 L700.0 862.0 L720.0 874.0 L740.0 880.0 L760.0 887.0 L780.0 896.0 L800.0 906.0 L820.0 914.0 L840.0 921.0 L860.0 931.0 L880.0 945.2 L890.0 948.2 L900.0 950.5 L910.0 956.8 L920.0 958.8 L930.0 964.8 L940.0 969.0 L950.0 975.5 L960.0 982.0 L970.0 985.0 L980.0 986.5 L990.0 992.2 L1000.0 994.5 L1010.0 998.0 L1020.0 1002.5 L1030.0 1009.5 L1040.0 1014.5 L1050.0 1017.0 L1060.0 1015.2 L1070.0 1017.5 L1080.0 1016.5 L1100.0 1021.0 L1120.0 1023.0 L1140.0 1020.0 L1160.0 1022.0 L1180.0 1022.0 L1200.0 1020.0 L1220.0 1016.0 L1240.0 1012.0 L1260.0 1007.0 L1280.0 997.0 L1300.0 992.0 L1320.0 985.0 L1340.0 975.0 L1360.0 966.0 L1380.0 960.0 L1400.0 952.0 L1420.0 945.0 L1440.0 937.0 L1460.0 932.0 L1475.0 930.0 L1490.0 927.0 L1505.0 923.0 L1520.0 920.0 L1535.0 923.0 L1550.0 927.0 L1565.0 930.5 L1580.0 933.5 L1595.0 939.5 L1610.0 941.0 L1625.0 940.5 L1640.0 939.0 L1655.0 937.0 L1670.0 936.0 L1680.5 933.5" stroke="#ff8000" stroke-width="9.2" fill="none" stroke-linejoin="round" stroke-linecap="round"/>
<path d="M860.0 926.3 L863.0 928.0 L866.0 930.1 L869.0 931.4 L872.0 933.7 L875.0 934.9 L878.0 937.3 L881.0 938.3 L884.0 939.7 L887.0 940.6 L890.0 941.0 L893.0 941.2 L896.0 942.2 L899.0 943.0 L902.0 944.0 L905.0 946.4 L908.0 948.7 L911.0 950.3 L914.0 951.0 L917.0 949.6 L920.0 949.6 L923.0 952.9 L926.0 954.3 L929.0 955.8 L932.0 957.0 L935.0 957.1 L938.0 959.2 L941.0 959.9 L944.0 962.6 L947.0 963.4 L950.0 966.3 L953.0 968.4 L956.0 970.7 L959.0 972.9 L962.0 975.0 L965.0 973.8 L968.0 975.0 L971.0 976.9 L974.0 977.3 L977.0 977.1 L980.0 977.0 L983.0 978.3 L986.0 979.0 L989.0 976.7 L992.0 976.8 L995.0 977.4 L998.0 982.0 L1001.0 981.8 L1004.0 982.9 L1007.0 985.1 L1010.0 986.9 L1013.0 987.0 L1016.0 988.7 L1019.0 991.0 L1022.0 992.9 L1025.0 995.1 L1028.0 997.0 L1031.0 997.1 L1034.0 999.3 L1037.0 998.1 L1040.0 1000.6 L1043.0 1002.0 L1046.0 1000.1 L1049.0 1001.9 L1052.0 1001.1 L1055.0 1002.1 L1058.0 1001.5 L1061.0 1002.0 L1064.0 1001.0 L1067.0 997.5 L1070.0 999.6 L1073.0 999.1 L1076.0 998.0 L1079.0 998.2 L1082.0 1001.6 L1085.0 1001.8 L1088.0 1003.2 L1091.0 1003.9 L1094.0 1003.6 L1097.0 1006.3 L1100.0 1005.5 L1103.0 1006.0 L1106.0 1006.3 L1109.0 1007.5 L1112.0 1007.6 L1115.0 1004.5 L1118.0 1003.8 L1121.0 1005.7 L1124.0 1006.4 L1127.0 1007.5 L1130.0 1005.3 L1133.0 1003.9 L1136.0 1004.1 L1139.0 1004.9 L1142.0 1005.4 L1145.0 1005.1 L1148.0 1003.7 L1151.0 1004.0 L1154.0 1005.5 L1157.0 1004.3 L1160.0 1005.4 L1163.0 1006.4 L1166.0 1006.1 L1169.0 1006.8 L1172.0 1006.6 L1175.0 1006.1 L1178.0 1005.5 L1181.0 1006.7 L1184.0 1006.6 L1187.0 1006.4 L1190.0 1004.4 L1193.0 1004.8 L1196.0 1003.0 L1199.0 1004.2 L1202.0 1002.0 L1205.0 1001.2 L1208.0 999.9 L1211.0 999.0 L1214.0 994.8 L1217.0 994.3 L1220.0 998.5 L1223.0 996.1 L1226.0 996.6 L1229.0 996.1 L1232.0 996.2 L1235.0 996.2 L1238.0 994.8 L1241.0 996.2 L1244.0 995.7 L1247.0 993.1 L1250.0 993.5 L1253.0 990.7 L1256.0 990.6 L1259.0 991.2 L1262.0 989.9 L1265.0 986.7 L1268.0 986.9 L1271.0 985.4 L1274.0 980.8 L1277.0 982.2 L1280.0 979.0 L1283.0 979.5 L1286.0 979.7 L1289.0 977.3 L1292.0 977.1 L1295.0 976.0 L1298.0 974.9 L1301.0 977.1 L1304.0 972.3 L1307.0 970.8 L1310.0 971.9 L1313.0 972.8 L1316.0 970.6 L1319.0 970.2 L1322.0 969.3 L1325.0 966.1 L1328.0 964.6 L1331.0 963.9 L1334.0 963.5 L1337.0 960.8 L1340.0 959.6 L1343.0 957.7 L1346.0 956.6 L1349.0 957.5 L1352.0 956.0 L1355.0 953.3 L1358.0 952.0 L1361.0 953.0 L1364.0 949.4 L1367.0 948.7 L1370.0 950.1 L1373.0 949.0 L1376.0 948.6 L1379.0 943.3 L1382.0 941.7 L1385.0 944.5 L1388.0 938.8 L1391.0 941.1 L1394.0 939.3 L1397.0 938.3 L1400.0 937.5 L1403.0 937.2 L1406.0 936.2 L1409.0 935.5 L1412.0 935.0 L1415.0 933.0 L1418.0 931.9 L1421.0 932.0 L1424.0 930.0 L1427.0 930.4 L1430.0 925.7 L1433.0 926.5 L1436.0 926.7 L1439.0 923.2 L1442.0 922.7 L1445.0 919.6 L1448.0 920.7 L1451.0 921.2 L1454.0 920.2 L1457.0 918.6 L1460.0 919.6 L1463.0 919.2 L1466.0 917.6 L1469.0 919.2 L1472.0 919.1 L1475.0 917.5 L1478.0 915.1 L1481.0 913.1 L1484.0 912.8 L1487.0 914.8 L1490.0 913.6 L1493.0 913.0 L1496.0 913.8 L1499.0 911.3 L1502.0 911.9 L1505.0 909.9 L1508.0 910.8 L1511.0 909.7 L1514.0 908.1 L1517.0 908.2 L1520.0 908.4 L1523.0 908.0 L1526.0 908.4 L1529.0 909.1 L1532.0 909.9 L1535.0 912.0 L1538.0 911.1 L1541.0 911.1 L1544.0 910.1 L1547.0 911.5 L1550.0 912.1 L1553.0 915.3 L1556.0 914.6 L1559.0 917.3 L1562.0 917.4 L1565.0 916.8 L1568.0 917.9 L1571.0 919.5 L1574.0 918.9 L1577.0 918.8 L1580.0 919.5 L1583.0 921.1 L1586.0 921.1 L1589.0 924.1 L1592.0 923.0 L1595.0 925.6 L1598.0 924.7 L1601.0 925.3 L1604.0 926.3 L1607.0 927.2 L1610.0 929.2 L1613.0 927.2 L1616.0 927.4 L1619.0 927.9 L1622.0 926.2 L1625.0 923.2 L1628.0 923.5 L1631.0 925.7 L1634.0 925.8 L1637.0 926.4 L1640.0 926.6 L1643.0 925.2 L1646.0 924.1 L1649.0 925.6 L1652.0 923.2 L1655.0 923.4 L1658.0 924.1 L1661.0 923.2 L1664.0 923.2 L1667.0 924.9 L1670.0 924.6 L1673.0 924.9 L1676.0 925.3 L1679.0 925.4 L1682.0 924.9 L1681.0 925.6 L1683.8 926.8 L1685.0 929.6 L1685.0 938.5 L1683.8 941.3 L1681.0 942.5 L1682.0 943.8 L1679.0 944.9 L1676.0 946.2 L1673.0 947.7 L1670.0 947.8 L1667.0 948.9 L1664.0 948.8 L1661.0 948.7 L1658.0 949.3 L1655.0 949.2 L1652.0 951.0 L1649.0 950.2 L1646.0 950.9 L1643.0 955.0 L1640.0 955.6 L1637.0 955.9 L1634.0 952.6 L1631.0 953.1 L1628.0 953.9 L1625.0 953.7 L1622.0 953.5 L1619.0 953.9 L1616.0 955.2 L1613.0 953.1 L1610.0 954.7 L1607.0 954.6 L1604.0 954.3 L1601.0 957.1 L1598.0 954.7 L1595.0 953.1 L1592.0 952.6 L1589.0 949.8 L1586.0 950.7 L1583.0 947.8 L1580.0 945.9 L1577.0 947.2 L1574.0 945.5 L1571.0 945.7 L1568.0 944.8 L1565.0 942.8 L1562.0 941.8 L1559.0 941.9 L1556.0 940.3 L1553.0 940.4 L1550.0 940.6 L1547.0 939.3 L1544.0 937.7 L1541.0 937.7 L1538.0 935.0 L1535.0 935.4 L1532.0 934.2 L1529.0 934.8 L1526.0 932.5 L1523.0 932.5 L1520.0 930.9 L1517.0 932.5 L1514.0 932.6 L1511.0 934.2 L1508.0 935.3 L1505.0 935.7 L1502.0 936.7 L1499.0 937.0 L1496.0 939.2 L1493.0 938.1 L1490.0 941.0 L1487.0 941.5 L1484.0 940.9 L1481.0 941.2 L1478.0 941.9 L1475.0 941.6 L1472.0 942.8 L1469.0 943.7 L1466.0 944.8 L1463.0 945.4 L1460.0 945.7 L1457.0 945.2 L1454.0 945.5 L1451.0 948.4 L1448.0 947.7 L1445.0 948.4 L1442.0 950.0 L1439.0 949.6 L1436.0 951.4 L1433.0 953.2 L1430.0 953.2 L1427.0 954.0 L1424.0 957.2 L1421.0 957.1 L1418.0 958.8 L1415.0 959.5 L1412.0 962.4 L1409.0 961.6 L1406.0 964.0 L1403.0 964.1 L1400.0 965.6 L1397.0 967.9 L1394.0 968.8 L1391.0 969.2 L1388.0 969.7 L1385.0 970.8 L1382.0 972.3 L1379.0 973.1 L1376.0 973.8 L1373.0 975.3 L1370.0 976.4 L1367.0 977.7 L1364.0 978.9 L1361.0 980.8 L1358.0 980.9 L1355.0 981.3 L1352.0 987.4 L1349.0 987.5 L1346.0 987.6 L1343.0 989.6 L1340.0 991.1 L1337.0 991.0 L1334.0 993.1 L1331.0 994.9 L1328.0 995.0 L1325.0 997.3 L1322.0 999.3 L1319.0 1001.8 L1316.0 1005.1 L1313.0 1005.9 L1310.0 1006.0 L1307.0 1004.7 L1304.0 1005.3 L1301.0 1007.6 L1298.0 1007.6 L1295.0 1009.0 L1292.0 1009.9 L1289.0 1011.5 L1286.0 1010.6 L1283.0 1012.6 L1280.0 1012.7 L1277.0 1016.1 L1274.0 1015.5 L1271.0 1016.9 L1268.0 1021.2 L1265.0 1021.8 L1262.0 1023.9 L1259.0 1024.8 L1256.0 1026.1 L1253.0 1025.5 L1250.0 1024.3 L1247.0 1025.7 L1244.0 1027.6 L1241.0 1028.2 L1238.0 1028.3 L1235.0 1030.3 L1232.0 1031.8 L1229.0 1031.2 L1226.0 1031.2 L1223.0 1033.1 L1220.0 1033.6 L1217.0 1036.1 L1214.0 1033.7 L1211.0 1035.7 L1208.0 1036.4 L1205.0 1037.1 L1202.0 1036.7 L1199.0 1036.4 L1196.0 1040.7 L1193.0 1041.8 L1190.0 1035.7 L1187.0 1038.3 L1184.0 1037.9 L1181.0 1038.9 L1178.0 1039.4 L1175.0 1037.0 L1172.0 1041.0 L1169.0 1042.8 L1166.0 1042.8 L1163.0 1036.4 L1160.0 1038.9 L1157.0 1039.3 L1154.0 1036.8 L1151.0 1041.9 L1148.0 1037.9 L1145.0 1037.2 L1142.0 1040.5 L1139.0 1040.2 L1136.0 1041.2 L1133.0 1036.1 L1130.0 1037.1 L1127.0 1037.9 L1124.0 1037.0 L1121.0 1038.7 L1118.0 1037.0 L1115.0 1036.9 L1112.0 1036.2 L1109.0 1037.2 L1106.0 1035.1 L1103.0 1036.0 L1100.0 1036.4 L1097.0 1036.2 L1094.0 1036.4 L1091.0 1035.4 L1088.0 1035.7 L1085.0 1033.7 L1082.0 1034.3 L1079.0 1031.8 L1076.0 1035.2 L1073.0 1034.2 L1070.0 1036.5 L1067.0 1033.3 L1064.0 1031.8 L1061.0 1030.1 L1058.0 1030.7 L1055.0 1033.1 L1052.0 1030.5 L1049.0 1031.8 L1046.0 1029.7 L1043.0 1028.5 L1040.0 1028.5 L1037.0 1027.1 L1034.0 1025.2 L1031.0 1023.2 L1028.0 1020.9 L1025.0 1018.3 L1022.0 1014.2 L1019.0 1012.4 L1016.0 1010.9 L1013.0 1011.0 L1010.0 1009.9 L1007.0 1009.8 L1004.0 1007.1 L1001.0 1007.1 L998.0 1006.1 L995.0 1006.3 L992.0 1009.0 L989.0 1005.4 L986.0 1002.4 L983.0 999.9 L980.0 996.3 L977.0 995.7 L974.0 995.1 L971.0 993.7 L968.0 993.0 L965.0 992.4 L962.0 991.7 L959.0 990.6 L956.0 987.6 L953.0 986.1 L950.0 984.5 L947.0 983.5 L944.0 980.9 L941.0 979.1 L938.0 976.6 L935.0 976.2 L932.0 973.3 L929.0 971.9 L926.0 971.0 L923.0 969.2 L920.0 966.3 L917.0 966.4 L914.0 964.4 L911.0 963.5 L908.0 961.8 L905.0 960.4 L902.0 959.5 L899.0 958.0 L896.0 958.9 L893.0 956.0 L890.0 955.4 L887.0 954.7 L884.0 954.1 L881.0 952.4 L878.0 950.4 L875.0 948.4 L872.0 946.0 L869.0 942.8 L866.0 940.4 L863.0 938.0 L860.0 935.3Z" fill="#ff8000"/>
<path d="M346.0 796.0 L370.0 806.0 L410.0 824.0 L450.0 842.0 L490.0 858.0 L530.0 874.0 L550.0 888.0 L570.0 898.0 L590.0 907.0 L610.0 916.0 L630.0 933.0 L650.0 938.5 L670.0 944.0 L690.0 954.0 L710.0 965.0 L730.0 972.0 L740.0 975.0 L760.0 982.0 L780.0 994.0 L800.0 1005.0 L820.0 1011.0 L840.0 1018.0 L860.0 1028.0 L880.0 1040.0 L900.0 1046.0 L920.0 1053.0 L940.0 1064.0 L960.0 1077.0 L980.0 1084.0 L1000.0 1090.0 L1020.0 1102.0 L1040.0 1119.0 L1060.0 1125.0 L1080.0 1130.5 L1100.0 1141.0 L1120.0 1151.5 L1140.0 1155.0 L1160.0 1160.0 L1180.0 1165.0 L1200.0 1170.0 L1220.0 1172.5 L1240.0 1176.5 L1260.0 1180.0 L1280.0 1182.5 L1300.0 1184.5 L1320.0 1185.5 L1340.0 1186.5 L1360.0 1186.5 L1380.0 1185.5 L1400.0 1184.0 L1420.0 1182.5 L1440.0 1180.5 L1460.0 1180.0 L1500.0 1179.5 L1550.0 1179.0 L1600.0 1178.5 L1650.0 1179.5 L1680.5 1178.0" stroke="#8000ff" stroke-width="9.2" fill="none" stroke-linejoin="round" stroke-linecap="round"/>
<path d="M980.0 1079.3 L983.0 1080.3 L986.0 1080.2 L989.0 1081.1 L992.0 1082.5 L995.0 1083.4 L998.0 1084.2 L1001.0 1085.9 L1004.0 1087.1 L1007.0 1089.3 L1010.0 1090.5 L1013.0 1092.2 L1016.0 1093.7 L1019.0 1095.2 L1022.0 1098.4 L1025.0 1100.6 L1028.0 1102.6 L1031.0 1105.6 L1034.0 1108.0 L1037.0 1110.2 L1040.0 1113.0 L1043.0 1113.9 L1046.0 1114.6 L1049.0 1115.4 L1052.0 1115.9 L1055.0 1117.2 L1058.0 1118.2 L1061.0 1118.3 L1064.0 1119.6 L1067.0 1120.4 L1070.0 1120.8 L1073.0 1121.1 L1076.0 1120.8 L1079.0 1122.0 L1082.0 1124.3 L1085.0 1125.1 L1088.0 1127.2 L1091.0 1128.2 L1094.0 1130.4 L1097.0 1131.8 L1100.0 1133.0 L1103.0 1135.1 L1106.0 1136.4 L1109.0 1137.2 L1112.0 1138.8 L1115.0 1141.1 L1118.0 1142.5 L1121.0 1142.7 L1124.0 1144.3 L1127.0 1144.3 L1130.0 1145.6 L1133.0 1145.3 L1136.0 1146.4 L1139.0 1147.1 L1142.0 1148.0 L1145.0 1148.3 L1148.0 1148.4 L1151.0 1149.6 L1154.0 1150.7 L1157.0 1151.0 L1160.0 1151.7 L1163.0 1152.7 L1166.0 1153.0 L1169.0 1153.2 L1172.0 1154.1 L1175.0 1155.6 L1178.0 1155.6 L1181.0 1156.8 L1184.0 1156.7 L1187.0 1155.7 L1190.0 1157.0 L1193.0 1159.7 L1196.0 1157.9 L1199.0 1158.7 L1202.0 1160.2 L1205.0 1161.7 L1208.0 1162.2 L1211.0 1162.2 L1214.0 1162.3 L1217.0 1161.9 L1220.0 1163.7 L1223.0 1162.1 L1226.0 1163.0 L1229.0 1165.1 L1232.0 1165.8 L1235.0 1164.4 L1238.0 1164.2 L1241.0 1167.9 L1244.0 1166.8 L1247.0 1167.3 L1250.0 1167.7 L1253.0 1168.3 L1256.0 1170.1 L1259.0 1169.3 L1262.0 1169.4 L1265.0 1169.7 L1268.0 1171.5 L1271.0 1171.3 L1274.0 1170.6 L1277.0 1171.7 L1280.0 1171.5 L1283.0 1172.3 L1286.0 1173.1 L1289.0 1172.1 L1292.0 1173.4 L1295.0 1173.2 L1298.0 1172.4 L1301.0 1172.5 L1304.0 1172.9 L1307.0 1174.7 L1310.0 1175.3 L1313.0 1175.1 L1316.0 1175.7 L1319.0 1172.2 L1322.0 1172.4 L1325.0 1173.9 L1328.0 1174.4 L1331.0 1175.4 L1334.0 1175.0 L1337.0 1175.2 L1340.0 1175.6 L1343.0 1175.6 L1346.0 1173.8 L1349.0 1173.2 L1352.0 1176.3 L1355.0 1175.1 L1358.0 1176.9 L1361.0 1175.5 L1364.0 1175.1 L1367.0 1175.2 L1370.0 1173.1 L1373.0 1174.8 L1376.0 1173.8 L1379.0 1174.0 L1382.0 1173.8 L1385.0 1171.4 L1388.0 1170.1 L1391.0 1172.2 L1394.0 1171.7 L1397.0 1172.8 L1400.0 1171.8 L1403.0 1170.7 L1406.0 1172.8 L1409.0 1172.2 L1412.0 1171.5 L1415.0 1172.3 L1418.0 1170.6 L1421.0 1171.7 L1424.0 1171.2 L1427.0 1169.5 L1430.0 1170.6 L1433.0 1168.0 L1436.0 1166.1 L1439.0 1169.5 L1442.0 1165.6 L1445.0 1166.4 L1448.0 1166.9 L1451.0 1168.7 L1454.0 1166.0 L1457.0 1167.0 L1460.0 1167.3 L1463.0 1168.5 L1466.0 1168.0 L1469.0 1168.5 L1472.0 1165.9 L1475.0 1167.2 L1478.0 1167.9 L1481.0 1168.1 L1484.0 1167.5 L1487.0 1168.4 L1490.0 1168.3 L1493.0 1165.4 L1496.0 1167.9 L1499.0 1167.1 L1502.0 1166.1 L1505.0 1165.9 L1508.0 1167.0 L1511.0 1167.7 L1514.0 1166.0 L1517.0 1165.9 L1520.0 1165.9 L1523.0 1168.0 L1526.0 1166.4 L1529.0 1168.1 L1532.0 1167.7 L1535.0 1167.1 L1538.0 1166.6 L1541.0 1167.4 L1544.0 1166.3 L1547.0 1167.8 L1550.0 1166.4 L1553.0 1167.6 L1556.0 1166.7 L1559.0 1167.1 L1562.0 1166.1 L1565.0 1166.5 L1568.0 1166.5 L1571.0 1166.7 L1574.0 1167.2 L1577.0 1165.6 L1580.0 1166.3 L1583.0 1166.6 L1586.0 1165.5 L1589.0 1166.5 L1592.0 1166.7 L1595.0 1166.6 L1598.0 1167.2 L1601.0 1165.6 L1604.0 1167.3 L1607.0 1166.1 L1610.0 1165.3 L1613.0 1166.8 L1616.0 1165.2 L1619.0 1165.6 L1622.0 1166.8 L1625.0 1166.3 L1628.0 1165.1 L1631.0 1164.5 L1634.0 1167.8 L1637.0 1167.6 L1640.0 1165.9 L1643.0 1167.6 L1646.0 1167.8 L1649.0 1167.7 L1652.0 1167.2 L1655.0 1166.6 L1658.0 1167.0 L1661.0 1165.6 L1664.0 1167.5 L1667.0 1167.7 L1670.0 1167.1 L1673.0 1165.7 L1676.0 1165.8 L1679.0 1166.1 L1682.0 1167.0 L1681.0 1163.7 L1683.8 1164.9 L1685.0 1167.7 L1685.0 1185.2 L1683.8 1188.0 L1681.0 1189.2 L1682.0 1189.5 L1679.0 1189.4 L1676.0 1190.9 L1673.0 1190.5 L1670.0 1190.7 L1667.0 1191.6 L1664.0 1192.0 L1661.0 1190.2 L1658.0 1192.5 L1655.0 1195.0 L1652.0 1192.7 L1649.0 1190.8 L1646.0 1190.9 L1643.0 1190.7 L1640.0 1190.8 L1637.0 1192.6 L1634.0 1191.8 L1631.0 1193.4 L1628.0 1193.7 L1625.0 1192.6 L1622.0 1192.1 L1619.0 1191.0 L1616.0 1192.1 L1613.0 1191.2 L1610.0 1190.0 L1607.0 1190.0 L1604.0 1191.7 L1601.0 1192.9 L1598.0 1190.0 L1595.0 1192.0 L1592.0 1194.4 L1589.0 1192.7 L1586.0 1192.6 L1583.0 1191.7 L1580.0 1190.7 L1577.0 1191.0 L1574.0 1190.6 L1571.0 1190.8 L1568.0 1190.2 L1565.0 1190.0 L1562.0 1191.0 L1559.0 1191.3 L1556.0 1190.3 L1553.0 1190.0 L1550.0 1190.1 L1547.0 1192.0 L1544.0 1191.5 L1541.0 1190.9 L1538.0 1191.9 L1535.0 1191.3 L1532.0 1194.9 L1529.0 1193.5 L1526.0 1193.0 L1523.0 1191.3 L1520.0 1192.2 L1517.0 1192.3 L1514.0 1190.9 L1511.0 1192.0 L1508.0 1191.9 L1505.0 1192.3 L1502.0 1192.2 L1499.0 1191.0 L1496.0 1192.5 L1493.0 1191.3 L1490.0 1191.7 L1487.0 1191.9 L1484.0 1191.0 L1481.0 1191.2 L1478.0 1190.8 L1475.0 1191.5 L1472.0 1190.3 L1469.0 1191.2 L1466.0 1190.2 L1463.0 1191.0 L1460.0 1190.9 L1457.0 1191.4 L1454.0 1192.3 L1451.0 1191.1 L1448.0 1191.0 L1445.0 1192.5 L1442.0 1190.9 L1439.0 1191.6 L1436.0 1191.7 L1433.0 1192.4 L1430.0 1192.0 L1427.0 1192.3 L1424.0 1192.5 L1421.0 1193.0 L1418.0 1194.6 L1415.0 1194.9 L1412.0 1194.7 L1409.0 1194.6 L1406.0 1195.5 L1403.0 1196.3 L1400.0 1196.6 L1397.0 1196.4 L1394.0 1197.4 L1391.0 1195.9 L1388.0 1197.0 L1385.0 1197.6 L1382.0 1197.5 L1379.0 1199.8 L1376.0 1200.0 L1373.0 1200.2 L1370.0 1196.3 L1367.0 1198.0 L1364.0 1197.3 L1361.0 1197.4 L1358.0 1196.7 L1355.0 1196.5 L1352.0 1197.4 L1349.0 1197.3 L1346.0 1200.0 L1343.0 1198.3 L1340.0 1196.5 L1337.0 1196.4 L1334.0 1196.5 L1331.0 1196.5 L1328.0 1196.3 L1325.0 1196.2 L1322.0 1197.3 L1319.0 1195.1 L1316.0 1195.5 L1313.0 1195.4 L1310.0 1195.9 L1307.0 1195.1 L1304.0 1195.2 L1301.0 1195.5 L1298.0 1195.7 L1295.0 1195.1 L1292.0 1193.7 L1289.0 1194.2 L1286.0 1193.0 L1283.0 1192.6 L1280.0 1193.1 L1277.0 1193.3 L1274.0 1192.5 L1271.0 1191.6 L1268.0 1190.5 L1265.0 1189.9 L1262.0 1191.6 L1259.0 1189.2 L1256.0 1190.1 L1253.0 1188.8 L1250.0 1187.8 L1247.0 1188.2 L1244.0 1187.2 L1241.0 1186.3 L1238.0 1185.9 L1235.0 1185.0 L1232.0 1184.1 L1229.0 1184.2 L1226.0 1183.8 L1223.0 1183.4 L1220.0 1182.1 L1217.0 1181.1 L1214.0 1180.9 L1211.0 1180.4 L1208.0 1179.6 L1205.0 1179.7 L1202.0 1180.7 L1199.0 1179.9 L1196.0 1178.0 L1193.0 1177.8 L1190.0 1176.4 L1187.0 1175.7 L1184.0 1174.6 L1181.0 1173.7 L1178.0 1173.4 L1175.0 1172.6 L1172.0 1172.2 L1169.0 1171.2 L1166.0 1169.8 L1163.0 1169.0 L1160.0 1167.8 L1157.0 1167.0 L1154.0 1166.6 L1151.0 1166.3 L1148.0 1164.6 L1145.0 1164.1 L1142.0 1163.0 L1139.0 1163.5 L1136.0 1162.0 L1133.0 1162.6 L1130.0 1161.2 L1127.0 1161.2 L1124.0 1160.3 L1121.0 1160.8 L1118.0 1158.8 L1115.0 1157.1 L1112.0 1156.8 L1109.0 1155.5 L1106.0 1153.6 L1103.0 1150.9 L1100.0 1149.4 L1097.0 1147.2 L1094.0 1146.1 L1091.0 1144.4 L1088.0 1142.4 L1085.0 1140.6 L1082.0 1139.1 L1079.0 1137.6 L1076.0 1137.3 L1073.0 1135.6 L1070.0 1134.4 L1067.0 1133.6 L1064.0 1132.4 L1061.0 1132.1 L1058.0 1130.5 L1055.0 1130.1 L1052.0 1129.1 L1049.0 1127.6 L1046.0 1127.4 L1043.0 1126.2 L1040.0 1125.3 L1037.0 1122.2 L1034.0 1119.9 L1031.0 1117.1 L1028.0 1114.4 L1025.0 1112.9 L1022.0 1110.0 L1019.0 1107.0 L1016.0 1105.8 L1013.0 1103.6 L1010.0 1101.6 L1007.0 1099.5 L1004.0 1097.3 L1001.0 1095.3 L998.0 1094.4 L995.0 1093.7 L992.0 1092.3 L989.0 1091.8 L986.0 1090.4 L983.0 1089.9 L980.0 1088.9Z" fill="#8000ff"/>
<path d="M346.0 868.0 L370.0 877.0 L410.0 894.0 L450.0 912.0 L490.0 930.0 L530.0 948.0 L550.0 962.0 L560.0 968.0 L570.0 972.0 L580.0 976.0 L590.0 980.0 L600.0 983.0 L610.0 987.5 L620.0 992.0 L630.0 998.0 L640.0 1005.0 L650.0 1009.0 L660.0 1012.0 L670.0 1016.0 L680.0 1020.0 L690.0 1024.0 L700.0 1029.0 L710.0 1035.0 L720.0 1042.0 L730.0 1046.0 L740.0 1049.0 L750.0 1053.0 L760.0 1057.0 L780.0 1070.0 L800.0 1080.0 L820.0 1086.0 L840.0 1093.0 L860.0 1102.0 L880.0 1114.0 L900.0 1120.0 L920.0 1128.0 L940.0 1140.0 L960.0 1155.0 L970.0 1158.5 L980.0 1163.0 L990.0 1166.0 L1000.0 1168.0 L1010.0 1172.0 L1020.0 1177.0 L1030.0 1184.0 L1040.0 1191.0 L1050.0 1193.0 L1060.0 1194.0 L1070.0 1198.0 L1080.0 1202.0 L1090.0 1205.5 L1100.0 1211.0 L1110.0 1217.0 L1120.0 1224.5 L1130.0 1227.5 L1140.0 1229.5 L1160.0 1236.0 L1180.0 1243.5 L1200.0 1253.5 L1220.0 1256.5 L1240.0 1261.0 L1260.0 1264.5 L1280.0 1269.0 L1300.0 1273.0 L1320.0 1276.5 L1340.0 1280.5 L1360.0 1283.5 L1380.0 1285.0 L1400.0 1287.5 L1420.0 1289.5 L1440.0 1291.5 L1460.0 1296.0 L1480.0 1300.0 L1500.0 1307.0 L1515.0 1311.0 L1530.0 1310.0 L1550.0 1308.0 L1570.0 1307.0 L1590.0 1304.0 L1610.0 1302.5 L1640.0 1302.0 L1670.0 1300.5 L1680.5 1298.5" stroke="#ff0000" stroke-width="9.2" fill="none" stroke-linejoin="round" stroke-linecap="round"/>
<path d="M900.0 1115.7 L903.0 1116.3 L906.0 1117.7 L909.0 1119.0 L912.0 1119.8 L915.0 1121.3 L918.0 1122.0 L921.0 1123.3 L924.0 1125.6 L927.0 1126.9 L930.0 1128.8 L933.0 1130.2 L936.0 1132.3 L939.0 1133.7 L942.0 1135.9 L945.0 1138.3 L948.0 1140.3 L951.0 1142.4 L954.0 1144.8 L957.0 1147.2 L960.0 1148.7 L963.0 1150.3 L966.0 1150.9 L969.0 1152.3 L972.0 1153.0 L975.0 1154.5 L978.0 1156.5 L981.0 1157.4 L984.0 1158.2 L987.0 1158.8 L990.0 1159.8 L993.0 1160.3 L996.0 1161.6 L999.0 1162.0 L1002.0 1162.9 L1005.0 1163.6 L1008.0 1164.8 L1011.0 1166.7 L1014.0 1167.7 L1017.0 1169.5 L1020.0 1171.2 L1023.0 1172.8 L1026.0 1175.5 L1029.0 1177.0 L1032.0 1179.6 L1035.0 1181.1 L1038.0 1184.0 L1041.0 1185.6 L1044.0 1185.6 L1047.0 1186.6 L1050.0 1187.2 L1053.0 1187.2 L1056.0 1187.3 L1059.0 1187.9 L1062.0 1188.4 L1065.0 1189.7 L1068.0 1191.0 L1071.0 1192.1 L1074.0 1193.8 L1077.0 1194.7 L1080.0 1196.0 L1083.0 1197.2 L1086.0 1197.5 L1089.0 1198.7 L1092.0 1200.0 L1095.0 1201.8 L1098.0 1203.4 L1101.0 1205.0 L1104.0 1206.0 L1107.0 1207.2 L1110.0 1209.8 L1113.0 1212.4 L1116.0 1213.9 L1119.0 1216.5 L1122.0 1217.7 L1125.0 1219.0 L1128.0 1219.3 L1131.0 1218.4 L1134.0 1221.2 L1137.0 1221.1 L1140.0 1222.6 L1143.0 1223.1 L1146.0 1224.3 L1149.0 1224.8 L1152.0 1225.1 L1155.0 1226.5 L1158.0 1227.8 L1161.0 1228.8 L1164.0 1228.9 L1167.0 1229.8 L1170.0 1231.9 L1173.0 1232.0 L1176.0 1234.2 L1179.0 1234.5 L1182.0 1236.4 L1185.0 1236.6 L1188.0 1239.4 L1191.0 1240.4 L1194.0 1241.7 L1197.0 1243.2 L1200.0 1243.4 L1203.0 1244.7 L1206.0 1244.4 L1209.0 1244.1 L1212.0 1243.1 L1215.0 1243.0 L1218.0 1243.5 L1221.0 1245.5 L1224.0 1246.3 L1227.0 1246.8 L1230.0 1248.4 L1233.0 1249.6 L1236.0 1250.4 L1239.0 1250.6 L1242.0 1251.4 L1245.0 1252.1 L1248.0 1252.4 L1251.0 1252.7 L1254.0 1251.2 L1257.0 1253.1 L1260.0 1254.4 L1263.0 1252.2 L1266.0 1253.0 L1269.0 1255.1 L1272.0 1255.8 L1275.0 1258.0 L1278.0 1257.6 L1281.0 1258.5 L1284.0 1258.0 L1287.0 1260.3 L1290.0 1261.0 L1293.0 1260.7 L1296.0 1260.2 L1299.0 1261.6 L1302.0 1262.8 L1305.0 1263.6 L1308.0 1261.0 L1311.0 1263.2 L1314.0 1264.7 L1317.0 1264.3 L1320.0 1263.2 L1323.0 1263.8 L1326.0 1266.8 L1329.0 1266.2 L1332.0 1266.9 L1335.0 1267.5 L1338.0 1268.5 L1341.0 1267.0 L1344.0 1269.6 L1347.0 1269.4 L1350.0 1269.6 L1353.0 1270.2 L1356.0 1270.3 L1359.0 1270.0 L1362.0 1271.0 L1365.0 1270.1 L1368.0 1271.7 L1371.0 1271.6 L1374.0 1271.7 L1377.0 1271.5 L1380.0 1272.8 L1383.0 1271.5 L1386.0 1272.6 L1389.0 1272.1 L1392.0 1273.5 L1395.0 1272.5 L1398.0 1272.5 L1401.0 1274.2 L1404.0 1272.4 L1407.0 1274.7 L1410.0 1273.1 L1413.0 1275.5 L1416.0 1273.4 L1419.0 1275.4 L1422.0 1274.0 L1425.0 1275.0 L1428.0 1276.6 L1431.0 1275.5 L1434.0 1274.3 L1437.0 1276.9 L1440.0 1275.8 L1443.0 1276.5 L1446.0 1278.9 L1449.0 1279.8 L1452.0 1278.4 L1455.0 1278.8 L1458.0 1280.6 L1461.0 1279.2 L1464.0 1279.7 L1467.0 1282.9 L1470.0 1277.2 L1473.0 1280.2 L1476.0 1278.0 L1479.0 1285.0 L1482.0 1284.6 L1485.0 1283.6 L1488.0 1285.8 L1491.0 1288.2 L1494.0 1288.5 L1497.0 1285.5 L1500.0 1288.1 L1503.0 1288.6 L1506.0 1291.0 L1509.0 1288.4 L1512.0 1289.5 L1515.0 1291.6 L1518.0 1289.9 L1521.0 1290.7 L1524.0 1290.3 L1527.0 1289.3 L1530.0 1291.9 L1533.0 1284.7 L1536.0 1286.2 L1539.0 1288.1 L1542.0 1288.5 L1545.0 1289.7 L1548.0 1290.3 L1551.0 1291.2 L1554.0 1290.5 L1557.0 1290.9 L1560.0 1290.5 L1563.0 1288.5 L1566.0 1288.6 L1569.0 1287.5 L1572.0 1289.9 L1575.0 1282.9 L1578.0 1281.9 L1581.0 1285.1 L1584.0 1288.5 L1587.0 1287.0 L1590.0 1284.4 L1593.0 1287.1 L1596.0 1286.1 L1599.0 1280.8 L1602.0 1281.8 L1605.0 1281.7 L1608.0 1286.8 L1611.0 1283.9 L1614.0 1285.7 L1617.0 1285.9 L1620.0 1283.3 L1623.0 1283.2 L1626.0 1285.2 L1629.0 1281.5 L1632.0 1284.0 L1635.0 1279.3 L1638.0 1280.3 L1641.0 1285.0 L1644.0 1285.6 L1647.0 1283.1 L1650.0 1282.0 L1653.0 1284.0 L1656.0 1284.6 L1659.0 1282.1 L1662.0 1284.9 L1665.0 1284.1 L1668.0 1281.4 L1671.0 1284.6 L1674.0 1282.9 L1677.0 1277.7 L1680.0 1278.1 L1683.0 1282.1 L1681.0 1284.5 L1683.8 1285.7 L1685.0 1288.5 L1685.0 1310.3 L1683.8 1313.1 L1681.0 1314.3 L1683.0 1314.6 L1680.0 1314.0 L1677.0 1318.3 L1674.0 1318.0 L1671.0 1316.0 L1668.0 1323.0 L1665.0 1322.9 L1662.0 1317.6 L1659.0 1317.4 L1656.0 1322.3 L1653.0 1323.9 L1650.0 1320.2 L1647.0 1319.6 L1644.0 1319.3 L1641.0 1321.6 L1638.0 1321.7 L1635.0 1319.0 L1632.0 1321.2 L1629.0 1323.4 L1626.0 1322.8 L1623.0 1319.5 L1620.0 1319.1 L1617.0 1320.5 L1614.0 1319.5 L1611.0 1318.6 L1608.0 1320.7 L1605.0 1320.9 L1602.0 1321.8 L1599.0 1321.5 L1596.0 1321.2 L1593.0 1323.4 L1590.0 1320.2 L1587.0 1323.2 L1584.0 1321.9 L1581.0 1322.5 L1578.0 1322.1 L1575.0 1322.4 L1572.0 1326.3 L1569.0 1324.5 L1566.0 1323.8 L1563.0 1325.1 L1560.0 1326.5 L1557.0 1326.5 L1554.0 1324.7 L1551.0 1327.5 L1548.0 1325.7 L1545.0 1328.3 L1542.0 1327.1 L1539.0 1326.2 L1536.0 1329.2 L1533.0 1328.1 L1530.0 1330.1 L1527.0 1331.0 L1524.0 1330.3 L1521.0 1330.2 L1518.0 1332.1 L1515.0 1330.5 L1512.0 1331.6 L1509.0 1328.1 L1506.0 1327.2 L1503.0 1327.3 L1500.0 1323.8 L1497.0 1324.0 L1494.0 1323.2 L1491.0 1322.4 L1488.0 1321.0 L1485.0 1317.6 L1482.0 1316.4 L1479.0 1315.1 L1476.0 1315.5 L1473.0 1318.3 L1470.0 1317.0 L1467.0 1313.5 L1464.0 1311.9 L1461.0 1312.1 L1458.0 1311.7 L1455.0 1310.3 L1452.0 1308.2 L1449.0 1307.8 L1446.0 1307.6 L1443.0 1305.8 L1440.0 1307.1 L1437.0 1305.8 L1434.0 1305.9 L1431.0 1305.4 L1428.0 1303.4 L1425.0 1305.0 L1422.0 1307.6 L1419.0 1306.2 L1416.0 1305.6 L1413.0 1303.8 L1410.0 1307.5 L1407.0 1303.4 L1404.0 1303.0 L1401.0 1301.4 L1398.0 1300.6 L1395.0 1300.5 L1392.0 1303.3 L1389.0 1298.5 L1386.0 1299.0 L1383.0 1299.3 L1380.0 1298.3 L1377.0 1298.1 L1374.0 1296.3 L1371.0 1296.7 L1368.0 1297.1 L1365.0 1297.4 L1362.0 1295.8 L1359.0 1298.7 L1356.0 1297.1 L1353.0 1297.1 L1350.0 1294.7 L1347.0 1295.2 L1344.0 1292.5 L1341.0 1292.5 L1338.0 1293.3 L1335.0 1291.7 L1332.0 1290.4 L1329.0 1291.3 L1326.0 1290.4 L1323.0 1289.4 L1320.0 1288.8 L1317.0 1289.7 L1314.0 1288.4 L1311.0 1286.5 L1308.0 1285.4 L1305.0 1284.5 L1302.0 1284.0 L1299.0 1284.0 L1296.0 1285.0 L1293.0 1284.2 L1290.0 1281.1 L1287.0 1280.5 L1284.0 1281.3 L1281.0 1279.9 L1278.0 1281.8 L1275.0 1280.1 L1272.0 1280.1 L1269.0 1277.7 L1266.0 1277.3 L1263.0 1275.7 L1260.0 1274.4 L1257.0 1274.0 L1254.0 1273.2 L1251.0 1272.6 L1248.0 1271.7 L1245.0 1271.2 L1242.0 1272.1 L1239.0 1270.4 L1236.0 1270.7 L1233.0 1269.6 L1230.0 1268.1 L1227.0 1268.5 L1224.0 1268.1 L1221.0 1267.8 L1218.0 1268.9 L1215.0 1268.5 L1212.0 1266.6 L1209.0 1265.3 L1206.0 1263.6 L1203.0 1263.0 L1200.0 1263.0 L1197.0 1260.9 L1194.0 1259.2 L1191.0 1258.8 L1188.0 1256.9 L1185.0 1256.5 L1182.0 1253.3 L1179.0 1252.3 L1176.0 1250.4 L1173.0 1249.8 L1170.0 1248.6 L1167.0 1246.5 L1164.0 1245.4 L1161.0 1244.9 L1158.0 1243.8 L1155.0 1242.5 L1152.0 1241.3 L1149.0 1240.7 L1146.0 1238.7 L1143.0 1238.0 L1140.0 1236.9 L1137.0 1236.0 L1134.0 1236.6 L1131.0 1235.9 L1128.0 1234.8 L1125.0 1232.9 L1122.0 1232.0 L1119.0 1231.4 L1116.0 1229.1 L1113.0 1226.7 L1110.0 1223.9 L1107.0 1222.4 L1104.0 1220.9 L1101.0 1218.2 L1098.0 1216.6 L1095.0 1215.8 L1092.0 1213.4 L1089.0 1212.2 L1086.0 1210.5 L1083.0 1209.1 L1080.0 1208.1 L1077.0 1206.8 L1074.0 1205.7 L1071.0 1204.2 L1068.0 1203.3 L1065.0 1202.1 L1062.0 1200.8 L1059.0 1199.5 L1056.0 1200.6 L1053.0 1199.9 L1050.0 1200.3 L1047.0 1198.6 L1044.0 1198.8 L1041.0 1197.1 L1038.0 1195.3 L1035.0 1193.8 L1032.0 1191.4 L1029.0 1189.7 L1026.0 1187.2 L1023.0 1185.2 L1020.0 1183.6 L1017.0 1182.8 L1014.0 1180.6 L1011.0 1178.3 L1008.0 1177.0 L1005.0 1176.3 L1002.0 1175.2 L999.0 1173.7 L996.0 1172.9 L993.0 1172.9 L990.0 1172.1 L987.0 1171.4 L984.0 1170.3 L981.0 1169.4 L978.0 1168.5 L975.0 1166.8 L972.0 1165.4 L969.0 1164.1 L966.0 1163.4 L963.0 1161.9 L960.0 1161.1 L957.0 1158.3 L954.0 1156.3 L951.0 1154.9 L948.0 1152.7 L945.0 1149.0 L942.0 1146.8 L939.0 1145.0 L936.0 1142.7 L933.0 1141.0 L930.0 1139.4 L927.0 1137.7 L924.0 1135.6 L921.0 1133.4 L918.0 1132.3 L915.0 1131.0 L912.0 1129.6 L909.0 1128.3 L906.0 1127.2 L903.0 1125.9 L900.0 1124.7Z" fill="#ff0000"/>
<rect x="278.4" y="300.0" width="9.6" height="1107.6" fill="#000"/><rect x="278.4" y="1398.2" width="1603.5" height="9.4" fill="#000"/><rect x="1872.6" y="300.0" width="9.3" height="1128.4" fill="#000"/><rect x="259.2" y="1228.5" width="19.4" height="9.6" fill="#000"/><rect x="259.2" y="986.6" width="19.4" height="9.6" fill="#000"/><rect x="259.2" y="744.7" width="19.4" height="9.6" fill="#000"/><rect x="259.2" y="502.8" width="19.4" height="9.6" fill="#000"/><rect x="272.2" y="1397.6" width="6.4" height="9.6" fill="#000"/><rect x="272.2" y="1355.0" width="6.4" height="9.6" fill="#000"/><rect x="272.2" y="1324.8" width="6.4" height="9.6" fill="#000"/><rect x="272.2" y="1301.3" width="6.4" height="9.6" fill="#000"/><rect x="272.2" y="1282.2" width="6.4" height="9.6" fill="#000"/><rect x="272.2" y="1266.0" width="6.4" height="9.6" fill="#000"/><rect x="272.2" y="1251.9" width="6.4" height="9.6" fill="#000"/><rect x="272.2" y="1239.6" width="6.4" height="9.6" fill="#000"/><rect x="272.2" y="1155.7" width="6.4" height="9.6" fill="#000"/><rect x="272.2" y="1113.1" width="6.4" height="9.6" fill="#000"/><rect x="272.2" y="1082.9" width="6.4" height="9.6" fill="#000"/><rect x="272.2" y="1059.4" width="6.4" height="9.6" fill="#000"/><rect x="272.2" y="1040.3" width="6.4" height="9.6" fill="#000"/><rect x="272.2" y="1024.1" width="6.4" height="9.6" fill="#000"/><rect x="272.2" y="1010.0" width="6.4" height="9.6" fill="#000"/><rect x="272.2" y="997.7" width="6.4" height="9.6" fill="#000"/><rect x="272.2" y="913.8" width="6.4" height="9.6" fill="#000"/><rect x="272.2" y="871.2" width="6.4" height="9.6" fill="#000"/><rect x="272.2" y="841.0" width="6.4" height="9.6" fill="#000"/><rect x="272.2" y="817.5" width="6.4" height="9.6" fill="#000"/><rect x="272.2" y="798.4" width="6.4" height="9.6" fill="#000"/><rect x="272.2" y="782.2" width="6.4" height="9.6" fill="#000"/><rect x="272.2" y="768.1" width="6.4" height="9.6" fill="#000"/><rect x="272.2" y="755.8" width="6.4" height="9.6" fill="#000"/><rect x="272.2" y="671.9" width="6.4" height="9.6" fill="#000"/><rect x="272.2" y="629.3" width="6.4" height="9.6" fill="#000"/><rect x="272.2" y="599.1" width="6.4" height="9.6" fill="#000"/><rect x="272.2" y="575.6" width="6.4" height="9.6" fill="#000"/><rect x="272.2" y="556.5" width="6.4" height="9.6" fill="#000"/><rect x="272.2" y="540.3" width="6.4" height="9.6" fill="#000"/><rect x="272.2" y="526.2" width="6.4" height="9.6" fill="#000"/><rect x="272.2" y="513.9" width="6.4" height="9.6" fill="#000"/><rect x="272.2" y="430.0" width="6.4" height="9.6" fill="#000"/><rect x="272.2" y="387.4" width="6.4" height="9.6" fill="#000"/><rect x="272.2" y="357.2" width="6.4" height="9.6" fill="#000"/><rect x="272.2" y="333.7" width="6.4" height="9.6" fill="#000"/><rect x="272.2" y="314.6" width="6.4" height="9.6" fill="#000"/><rect x="272.2" y="298.4" width="6.4" height="9.6" fill="#000"/><rect x="278.9" y="1407" width="9.3" height="21.4" fill="#000"/><rect x="544.6" y="1407" width="9.3" height="21.4" fill="#000"/><rect x="810.2" y="1407" width="9.3" height="21.4" fill="#000"/><rect x="1075.8" y="1407" width="9.3" height="21.4" fill="#000"/><rect x="1341.5" y="1407" width="9.3" height="21.4" fill="#000"/><rect x="1607.1" y="1407" width="9.3" height="21.4" fill="#000"/><rect x="1872.8" y="1407" width="9.3" height="21.4" fill="#000"/><rect x="358.9" y="1407" width="9.3" height="8.8" fill="#000"/><rect x="405.6" y="1407" width="9.3" height="8.8" fill="#000"/><rect x="438.8" y="1407" width="9.3" height="8.8" fill="#000"/><rect x="464.6" y="1407" width="9.3" height="8.8" fill="#000"/><rect x="485.6" y="1407" width="9.3" height="8.8" fill="#000"/><rect x="503.4" y="1407" width="9.3" height="8.8" fill="#000"/><rect x="518.8" y="1407" width="9.3" height="8.8" fill="#000"/><rect x="532.4" y="1407" width="9.3" height="8.8" fill="#000"/><rect x="624.5" y="1407" width="9.3" height="8.8" fill="#000"/><rect x="671.3" y="1407" width="9.3" height="8.8" fill="#000"/><rect x="704.5" y="1407" width="9.3" height="8.8" fill="#000"/><rect x="730.2" y="1407" width="9.3" height="8.8" fill="#000"/><rect x="751.3" y="1407" width="9.3" height="8.8" fill="#000"/><rect x="769.1" y="1407" width="9.3" height="8.8" fill="#000"/><rect x="784.5" y="1407" width="9.3" height="8.8" fill="#000"/><rect x="798.0" y="1407" width="9.3" height="8.8" fill="#000"/><rect x="890.2" y="1407" width="9.3" height="8.8" fill="#000"/><rect x="936.9" y="1407" width="9.3" height="8.8" fill="#000"/><rect x="970.1" y="1407" width="9.3" height="8.8" fill="#000"/><rect x="995.9" y="1407" width="9.3" height="8.8" fill="#000"/><rect x="1016.9" y="1407" width="9.3" height="8.8" fill="#000"/><rect x="1034.7" y="1407" width="9.3" height="8.8" fill="#000"/><rect x="1050.1" y="1407" width="9.3" height="8.8" fill="#000"/><rect x="1063.7" y="1407" width="9.3" height="8.8" fill="#000"/><rect x="1155.8" y="1407" width="9.3" height="8.8" fill="#000"/><rect x="1202.6" y="1407" width="9.3" height="8.8" fill="#000"/><rect x="1235.8" y="1407" width="9.3" height="8.8" fill="#000"/><rect x="1261.5" y="1407" width="9.3" height="8.8" fill="#000"/><rect x="1282.6" y="1407" width="9.3" height="8.8" fill="#000"/><rect x="1300.4" y="1407" width="9.3" height="8.8" fill="#000"/><rect x="1315.8" y="1407" width="9.3" height="8.8" fill="#000"/><rect x="1329.3" y="1407" width="9.3" height="8.8" fill="#000"/><rect x="1421.5" y="1407" width="9.3" height="8.8" fill="#000"/><rect x="1468.2" y="1407" width="9.3" height="8.8" fill="#000"/><rect x="1501.4" y="1407" width="9.3" height="8.8" fill="#000"/><rect x="1527.2" y="1407" width="9.3" height="8.8" fill="#000"/><rect x="1548.2" y="1407" width="9.3" height="8.8" fill="#000"/><rect x="1566.0" y="1407" width="9.3" height="8.8" fill="#000"/><rect x="1581.4" y="1407" width="9.3" height="8.8" fill="#000"/><rect x="1595.0" y="1407" width="9.3" height="8.8" fill="#000"/><rect x="1687.1" y="1407" width="9.3" height="8.8" fill="#000"/><rect x="1733.9" y="1407" width="9.3" height="8.8" fill="#000"/><rect x="1767.1" y="1407" width="9.3" height="8.8" fill="#000"/><rect x="1792.8" y="1407" width="9.3" height="8.8" fill="#000"/><rect x="1813.9" y="1407" width="9.3" height="8.8" fill="#000"/><rect x="1831.7" y="1407" width="9.3" height="8.8" fill="#000"/><rect x="1847.1" y="1407" width="9.3" height="8.8" fill="#000"/><rect x="1860.6" y="1407" width="9.3" height="8.8" fill="#000"/>
<text x="240.5" y="527.9" text-anchor="end" style="font-family:'Liberation Serif','Times New Roman',serif;font-weight:bold;font-size:68px">100</text>
<text x="240.5" y="769.8" text-anchor="end" style="font-family:'Liberation Serif','Times New Roman',serif;font-weight:bold;font-size:68px">10</text>
<text x="240.5" y="1011.7" text-anchor="end" style="font-family:'Liberation Serif','Times New Roman',serif;font-weight:bold;font-size:68px">1</text>
<text x="240.5" y="1253.6" text-anchor="end" style="font-family:'Liberation Serif','Times New Roman',serif;font-weight:bold;font-size:68px">0.1</text>
<text x="283.6" y="1497.5" text-anchor="middle" style="font-family:'Liberation Serif','Times New Roman',serif;font-weight:bold;font-size:69px">0.1</text>
<text x="547.7" y="1497.5" text-anchor="middle" style="font-family:'Liberation Serif','Times New Roman',serif;font-weight:bold;font-size:69px">1</text>
<text x="813.9" y="1497.5" text-anchor="middle" style="font-family:'Liberation Serif','Times New Roman',serif;font-weight:bold;font-size:69px">10</text>
<text x="1079.0" y="1497.5" text-anchor="middle" style="font-family:'Liberation Serif','Times New Roman',serif;font-weight:bold;font-size:69px">100</text>
<text x="1344.2" y="1497.5" text-anchor="middle" style="font-family:'Liberation Serif','Times New Roman',serif;font-weight:bold;font-size:69px">1000</text>
<text x="1602.8" y="1497.5" text-anchor="middle" style="font-family:'Liberation Serif','Times New Roman',serif;font-weight:bold;font-size:67.6px">10,000</text>
<text x="1868.0" y="1497.5" text-anchor="middle" style="font-family:'Liberation Serif','Times New Roman',serif;font-weight:bold;font-size:66.8px">100,000</text>
<text x="1079.3" y="1608.3" text-anchor="middle" style="font-family:'Liberation Serif','Times New Roman',serif;font-weight:bold;font-size:67.5px">time(s)</text>
<text transform="translate(79.2 714.3) rotate(-90)" text-anchor="middle" style="font-family:'Liberation Serif','Times New Roman',serif;font-weight:bold;font-size:66.7px">Allan Standard Deviation(deg/h)</text>
<rect x="115.5" y="29.5" width="1836" height="441" fill="#fff" stroke="#000" stroke-width="2"/>
<path d="M124 70.0H251" stroke="#008000" stroke-width="9.3" stroke-linecap="round"/>
<text x="264.2" y="89.2" textLength="590.2" lengthAdjust="spacing" style="font-family:'Liberation Serif','Times New Roman',serif;font-weight:bold;font-size:57.3px">SP fiber ring resonators</text>
<path d="M124 141.8H251" stroke="#0000ff" stroke-width="9.3" stroke-linecap="round"/>
<text x="266.3" y="161.0" textLength="1048.3" lengthAdjust="spacing" style="font-family:'Liberation Serif','Times New Roman',serif;font-weight:bold;font-size:57.3px">Dual-channel error RAM feedback control</text>
<path d="M124 213.6H251" stroke="#000000" stroke-width="9.3" stroke-linecap="round"/>
<text x="266.3" y="232.8" textLength="1048.1" lengthAdjust="spacing" style="font-family:'Liberation Serif','Times New Roman',serif;font-weight:bold;font-size:57.3px">Reciprocal phase modilation demodulation</text>
<path d="M124 285.4H251" stroke="#ff8000" stroke-width="9.3" stroke-linecap="round"/>
<text x="266.3" y="304.6" textLength="1180.8" lengthAdjust="spacing" style="font-family:'Liberation Serif','Times New Roman',serif;font-weight:bold;font-size:57.3px">Reciprocal modilation and double demodulation</text>
<path d="M124 357.2H251" stroke="#8000ff" stroke-width="9.3" stroke-linecap="round"/>
<text x="266.4" y="376.4" textLength="1219.5" lengthAdjust="spacing" style="font-family:'Liberation Serif','Times New Roman',serif;font-weight:bold;font-size:57.3px">Three Laser HP/LP modilation and demodulation</text>
<path d="M124 429.0H251" stroke="#ff0000" stroke-width="9.3" stroke-linecap="round"/>
<text x="266.3" y="448.2" textLength="1673.6" lengthAdjust="spacing" style="font-family:'Liberation Serif','Times New Roman',serif;font-weight:bold;font-size:57.3px">Reciprocal modilation and RAM feedback and double demodulation</text>
<rect x="112.5" y="246.5" width="2.5" height="2.5" fill="#6e1048"/><rect x="112.5" y="283.5" width="2.5" height="2" fill="#8a3a10"/>
</svg></body></html>
